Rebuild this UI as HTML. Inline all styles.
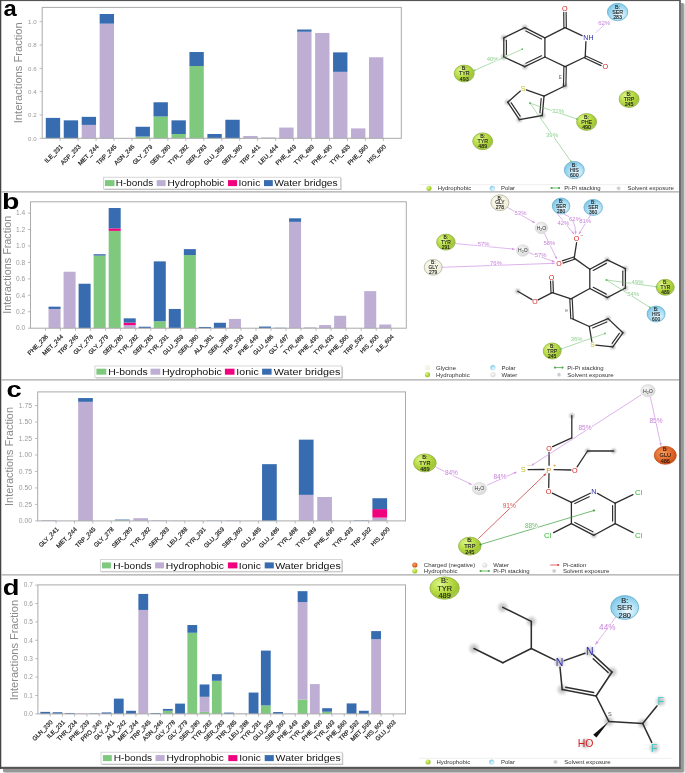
<!DOCTYPE html>
<html><head><meta charset="utf-8"><style>
html,body{margin:0;padding:0;background:#fff;}
svg{display:block;font-family:"Liberation Sans", sans-serif;filter:blur(0.3px);}
</style></head><body>
<svg width="685" height="773" viewBox="0 0 685 773">
<defs>
<radialGradient id="gH" cx="35%" cy="32%" r="72%"><stop offset="0" stop-color="#def690"/><stop offset="0.5" stop-color="#b9dc46"/><stop offset="0.85" stop-color="#9fc634"/><stop offset="1" stop-color="#b0cf60"/></radialGradient>
<radialGradient id="gP" cx="60%" cy="65%" r="72%"><stop offset="0" stop-color="#f0fbff"/><stop offset="0.45" stop-color="#b4e2f5"/><stop offset="0.9" stop-color="#80c8e8"/><stop offset="1" stop-color="#90cce8"/></radialGradient>
<radialGradient id="gG" cx="40%" cy="40%" r="70%"><stop offset="0" stop-color="#fcfcf0"/><stop offset="1" stop-color="#ecebd6"/></radialGradient>
<radialGradient id="gW" cx="40%" cy="40%" r="70%"><stop offset="0" stop-color="#fafafa"/><stop offset="1" stop-color="#d4d4d4"/></radialGradient>
<radialGradient id="gN" cx="40%" cy="40%" r="70%"><stop offset="0" stop-color="#f7a060"/><stop offset="0.6" stop-color="#e0642a"/><stop offset="1" stop-color="#c04a14"/></radialGradient>
<radialGradient id="gS" cx="50%" cy="50%" r="50%"><stop offset="0" stop-color="#bdbdbd"/><stop offset="0.45" stop-color="#cdcdcd" stop-opacity="0.85"/><stop offset="1" stop-color="#e8e8e8" stop-opacity="0"/></radialGradient>
</defs>
<rect x="0" y="0" width="685" height="773" fill="#fff"/>
<rect x="3" y="3" width="682" height="770" rx="2.5" fill="#d2d2d2"/>
<rect x="3" y="3" width="680.8" height="769.2" rx="1.5" fill="#979797"/>
<rect x="0" y="0" width="680.8" height="768.9" fill="#555"/>
<rect x="679" y="1" width="1.8" height="766" fill="#707070"/>
<rect x="0" y="0" width="1.3" height="768.9" fill="#444"/>
<rect x="1.3" y="1.1" width="677.7" height="765.7" fill="#fff"/>
<line x1="1.5" y1="191.8" x2="679" y2="191.8" stroke="#a8a8a8" stroke-width="1.3"/>
<line x1="1.5" y1="379.9" x2="679" y2="379.9" stroke="#a8a8a8" stroke-width="1.3"/>
<line x1="1.5" y1="574.9" x2="679" y2="574.9" stroke="#a8a8a8" stroke-width="1.3"/>

<rect x="45.79" y="117.9" width="14.36" height="20.4" fill="#386cb0"/>
<rect x="63.75" y="120.34" width="14.36" height="17.96" fill="#386cb0"/>
<rect x="81.7" y="124.89" width="14.36" height="13.41" fill="#beaed4"/>
<rect x="81.7" y="116.85" width="14.36" height="8.05" fill="#386cb0"/>
<rect x="99.66" y="23.68" width="14.36" height="114.62" fill="#beaed4"/>
<rect x="99.66" y="14" width="14.36" height="9.68" fill="#386cb0"/>
<rect x="135.57" y="136.55" width="14.36" height="1.75" fill="#7fc97f"/>
<rect x="135.57" y="126.76" width="14.36" height="9.79" fill="#386cb0"/>
<rect x="153.52" y="116.5" width="14.36" height="21.8" fill="#7fc97f"/>
<rect x="153.52" y="102.27" width="14.36" height="14.23" fill="#386cb0"/>
<rect x="171.48" y="133.99" width="14.36" height="4.31" fill="#7fc97f"/>
<rect x="171.48" y="120.34" width="14.36" height="13.64" fill="#386cb0"/>
<rect x="189.43" y="66.01" width="14.36" height="72.29" fill="#7fc97f"/>
<rect x="189.43" y="52.02" width="14.36" height="13.99" fill="#386cb0"/>
<rect x="207.39" y="133.99" width="14.36" height="4.31" fill="#386cb0"/>
<rect x="225.34" y="119.76" width="14.36" height="18.54" fill="#386cb0"/>
<rect x="243.3" y="135.97" width="14.36" height="2.33" fill="#beaed4"/>
<rect x="261.25" y="137.48" width="14.36" height="0.82" fill="#beaed4"/>
<rect x="279.21" y="127.57" width="14.36" height="10.73" fill="#beaed4"/>
<rect x="297.16" y="31.73" width="14.36" height="106.57" fill="#beaed4"/>
<rect x="297.16" y="29.51" width="14.36" height="2.22" fill="#386cb0"/>
<rect x="315.12" y="33.01" width="14.36" height="105.29" fill="#beaed4"/>
<rect x="333.07" y="71.84" width="14.36" height="66.46" fill="#beaed4"/>
<rect x="333.07" y="52.37" width="14.36" height="19.47" fill="#386cb0"/>
<rect x="351.03" y="128.39" width="14.36" height="9.91" fill="#beaed4"/>
<rect x="368.98" y="57.26" width="14.36" height="81.04" fill="#beaed4"/>
<rect x="42.2" y="7.4" width="359.1" height="130.9" fill="none" stroke="#aaa" stroke-width="1"/>
<line x1="39.6" y1="138.3" x2="42.2" y2="138.3" stroke="#aaa" stroke-width="0.8"/>
<text x="36.6" y="140.5" text-anchor="end" font-size="6.1" fill="#999">0.0</text>
<line x1="39.6" y1="114.98" x2="42.2" y2="114.98" stroke="#aaa" stroke-width="0.8"/>
<text x="36.6" y="117.18" text-anchor="end" font-size="6.1" fill="#999">0.2</text>
<line x1="39.6" y1="91.66" x2="42.2" y2="91.66" stroke="#aaa" stroke-width="0.8"/>
<text x="36.6" y="93.86" text-anchor="end" font-size="6.1" fill="#999">0.4</text>
<line x1="39.6" y1="68.34" x2="42.2" y2="68.34" stroke="#aaa" stroke-width="0.8"/>
<text x="36.6" y="70.54" text-anchor="end" font-size="6.1" fill="#999">0.6</text>
<line x1="39.6" y1="45.02" x2="42.2" y2="45.02" stroke="#aaa" stroke-width="0.8"/>
<text x="36.6" y="47.22" text-anchor="end" font-size="6.1" fill="#999">0.8</text>
<line x1="39.6" y1="21.7" x2="42.2" y2="21.7" stroke="#aaa" stroke-width="0.8"/>
<text x="36.6" y="23.9" text-anchor="end" font-size="6.1" fill="#999">1.0</text>
<line x1="60.16" y1="138.3" x2="60.16" y2="140.9" stroke="#aaa" stroke-width="0.8"/>
<text x="63.16" y="147.1" text-anchor="end" font-size="6.1" fill="#1a1a1a" stroke="#1a1a1a" stroke-width="0.18" transform="rotate(-45 63.16 147.1)">ILE_231</text>
<line x1="78.11" y1="138.3" x2="78.11" y2="140.9" stroke="#aaa" stroke-width="0.8"/>
<text x="81.11" y="147.1" text-anchor="end" font-size="6.1" fill="#1a1a1a" stroke="#1a1a1a" stroke-width="0.18" transform="rotate(-45 81.11 147.1)">ASP_233</text>
<line x1="96.07" y1="138.3" x2="96.07" y2="140.9" stroke="#aaa" stroke-width="0.8"/>
<text x="99.07" y="147.1" text-anchor="end" font-size="6.1" fill="#1a1a1a" stroke="#1a1a1a" stroke-width="0.18" transform="rotate(-45 99.07 147.1)">MET_244</text>
<line x1="114.02" y1="138.3" x2="114.02" y2="140.9" stroke="#aaa" stroke-width="0.8"/>
<text x="117.02" y="147.1" text-anchor="end" font-size="6.1" fill="#1a1a1a" stroke="#1a1a1a" stroke-width="0.18" transform="rotate(-45 117.02 147.1)">TRP_245</text>
<line x1="131.98" y1="138.3" x2="131.98" y2="140.9" stroke="#aaa" stroke-width="0.8"/>
<text x="134.98" y="147.1" text-anchor="end" font-size="6.1" fill="#1a1a1a" stroke="#1a1a1a" stroke-width="0.18" transform="rotate(-45 134.98 147.1)">ASN_246</text>
<line x1="149.93" y1="138.3" x2="149.93" y2="140.9" stroke="#aaa" stroke-width="0.8"/>
<text x="152.93" y="147.1" text-anchor="end" font-size="6.1" fill="#1a1a1a" stroke="#1a1a1a" stroke-width="0.18" transform="rotate(-45 152.93 147.1)">GLY_279</text>
<line x1="167.89" y1="138.3" x2="167.89" y2="140.9" stroke="#aaa" stroke-width="0.8"/>
<text x="170.89" y="147.1" text-anchor="end" font-size="6.1" fill="#1a1a1a" stroke="#1a1a1a" stroke-width="0.18" transform="rotate(-45 170.89 147.1)">SER_280</text>
<line x1="185.84" y1="138.3" x2="185.84" y2="140.9" stroke="#aaa" stroke-width="0.8"/>
<text x="188.84" y="147.1" text-anchor="end" font-size="6.1" fill="#1a1a1a" stroke="#1a1a1a" stroke-width="0.18" transform="rotate(-45 188.84 147.1)">TYR_282</text>
<line x1="203.8" y1="138.3" x2="203.8" y2="140.9" stroke="#aaa" stroke-width="0.8"/>
<text x="206.8" y="147.1" text-anchor="end" font-size="6.1" fill="#1a1a1a" stroke="#1a1a1a" stroke-width="0.18" transform="rotate(-45 206.8 147.1)">SER_283</text>
<line x1="221.75" y1="138.3" x2="221.75" y2="140.9" stroke="#aaa" stroke-width="0.8"/>
<text x="224.75" y="147.1" text-anchor="end" font-size="6.1" fill="#1a1a1a" stroke="#1a1a1a" stroke-width="0.18" transform="rotate(-45 224.75 147.1)">GLU_359</text>
<line x1="239.71" y1="138.3" x2="239.71" y2="140.9" stroke="#aaa" stroke-width="0.8"/>
<text x="242.71" y="147.1" text-anchor="end" font-size="6.1" fill="#1a1a1a" stroke="#1a1a1a" stroke-width="0.18" transform="rotate(-45 242.71 147.1)">SER_360</text>
<line x1="257.66" y1="138.3" x2="257.66" y2="140.9" stroke="#aaa" stroke-width="0.8"/>
<text x="260.66" y="147.1" text-anchor="end" font-size="6.1" fill="#1a1a1a" stroke="#1a1a1a" stroke-width="0.18" transform="rotate(-45 260.66 147.1)">TRP_441</text>
<line x1="275.62" y1="138.3" x2="275.62" y2="140.9" stroke="#aaa" stroke-width="0.8"/>
<text x="278.62" y="147.1" text-anchor="end" font-size="6.1" fill="#1a1a1a" stroke="#1a1a1a" stroke-width="0.18" transform="rotate(-45 278.62 147.1)">LEU_444</text>
<line x1="293.57" y1="138.3" x2="293.57" y2="140.9" stroke="#aaa" stroke-width="0.8"/>
<text x="296.57" y="147.1" text-anchor="end" font-size="6.1" fill="#1a1a1a" stroke="#1a1a1a" stroke-width="0.18" transform="rotate(-45 296.57 147.1)">PHE_449</text>
<line x1="311.53" y1="138.3" x2="311.53" y2="140.9" stroke="#aaa" stroke-width="0.8"/>
<text x="314.53" y="147.1" text-anchor="end" font-size="6.1" fill="#1a1a1a" stroke="#1a1a1a" stroke-width="0.18" transform="rotate(-45 314.53 147.1)">TYR_489</text>
<line x1="329.48" y1="138.3" x2="329.48" y2="140.9" stroke="#aaa" stroke-width="0.8"/>
<text x="332.48" y="147.1" text-anchor="end" font-size="6.1" fill="#1a1a1a" stroke="#1a1a1a" stroke-width="0.18" transform="rotate(-45 332.48 147.1)">PHE_490</text>
<line x1="347.44" y1="138.3" x2="347.44" y2="140.9" stroke="#aaa" stroke-width="0.8"/>
<text x="350.44" y="147.1" text-anchor="end" font-size="6.1" fill="#1a1a1a" stroke="#1a1a1a" stroke-width="0.18" transform="rotate(-45 350.44 147.1)">TYR_493</text>
<line x1="365.39" y1="138.3" x2="365.39" y2="140.9" stroke="#aaa" stroke-width="0.8"/>
<text x="368.39" y="147.1" text-anchor="end" font-size="6.1" fill="#1a1a1a" stroke="#1a1a1a" stroke-width="0.18" transform="rotate(-45 368.39 147.1)">PHE_560</text>
<line x1="383.35" y1="138.3" x2="383.35" y2="140.9" stroke="#aaa" stroke-width="0.8"/>
<text x="386.35" y="147.1" text-anchor="end" font-size="6.1" fill="#1a1a1a" stroke="#1a1a1a" stroke-width="0.18" transform="rotate(-45 386.35 147.1)">HIS_600</text>
<text x="0" y="0" text-anchor="middle" font-size="10.3" fill="#8a8a8a" textLength="101" lengthAdjust="spacingAndGlyphs" transform="translate(22.2 72.75) rotate(-90)">Interactions Fraction</text>
<text x="0" y="0" font-size="100" font-weight="bold" fill="#000" transform="translate(3.49 16.4) scale(0.238 0.226)">a</text>
<rect x="104.5" y="178.2" width="237" height="11.8" fill="#bbb"/>
<rect x="103.5" y="177.2" width="237" height="11.8" fill="#fff" stroke="#ccc" stroke-width="0.8"/>
<rect x="104.9" y="180.1" width="9.6" height="6" fill="#7fc97f"/>
<text x="115.8" y="186.4" font-size="9.2" fill="#111" textLength="37.5" lengthAdjust="spacingAndGlyphs">H-bonds</text>
<rect x="156.7" y="180.1" width="8.9" height="6" fill="#beaed4"/>
<text x="167.5" y="186.4" font-size="9.2" fill="#111" textLength="56.9" lengthAdjust="spacingAndGlyphs">Hydrophobic</text>
<rect x="228" y="180.1" width="9.1" height="6" fill="#f0027f"/>
<text x="238.5" y="186.4" font-size="9.2" fill="#111" textLength="21.8" lengthAdjust="spacingAndGlyphs">Ionic</text>
<rect x="264" y="180.1" width="8.8" height="6" fill="#386cb0"/>
<text x="274.2" y="186.4" font-size="9.2" fill="#111" textLength="63.5" lengthAdjust="spacingAndGlyphs">Water bridges</text>
<rect x="48.54" y="308.97" width="12.03" height="19.23" fill="#beaed4"/>
<rect x="48.54" y="306.66" width="12.03" height="2.3" fill="#386cb0"/>
<rect x="63.57" y="271.73" width="12.03" height="56.47" fill="#beaed4"/>
<rect x="78.6" y="283.73" width="12.03" height="44.47" fill="#386cb0"/>
<rect x="93.63" y="255.62" width="12.03" height="72.58" fill="#7fc97f"/>
<rect x="93.63" y="254.22" width="12.03" height="1.4" fill="#386cb0"/>
<rect x="108.67" y="230.88" width="12.03" height="97.32" fill="#7fc97f"/>
<rect x="108.67" y="228.41" width="12.03" height="2.47" fill="#f0027f"/>
<rect x="108.67" y="208.02" width="12.03" height="20.39" fill="#386cb0"/>
<rect x="123.7" y="325.16" width="12.03" height="3.04" fill="#beaed4"/>
<rect x="123.7" y="322.61" width="12.03" height="2.55" fill="#f0027f"/>
<rect x="123.7" y="318.34" width="12.03" height="4.27" fill="#386cb0"/>
<rect x="138.73" y="326.72" width="12.03" height="1.48" fill="#386cb0"/>
<rect x="153.76" y="321.21" width="12.03" height="6.99" fill="#7fc97f"/>
<rect x="153.76" y="261.37" width="12.03" height="59.84" fill="#386cb0"/>
<rect x="168.79" y="308.97" width="12.03" height="19.23" fill="#386cb0"/>
<rect x="183.83" y="255.04" width="12.03" height="73.16" fill="#7fc97f"/>
<rect x="183.83" y="249.12" width="12.03" height="5.92" fill="#386cb0"/>
<rect x="198.86" y="326.97" width="12.03" height="1.23" fill="#386cb0"/>
<rect x="213.89" y="322.77" width="12.03" height="5.43" fill="#386cb0"/>
<rect x="228.92" y="318.91" width="12.03" height="9.29" fill="#beaed4"/>
<rect x="258.99" y="326.56" width="12.03" height="1.64" fill="#386cb0"/>
<rect x="274.02" y="327.79" width="12.03" height="0.41" fill="#386cb0"/>
<rect x="289.05" y="221.83" width="12.03" height="106.37" fill="#beaed4"/>
<rect x="289.05" y="218.3" width="12.03" height="3.53" fill="#386cb0"/>
<rect x="304.08" y="327.38" width="12.03" height="0.82" fill="#beaed4"/>
<rect x="319.11" y="325.08" width="12.03" height="3.12" fill="#beaed4"/>
<rect x="334.15" y="315.79" width="12.03" height="12.41" fill="#beaed4"/>
<rect x="364.21" y="291.13" width="12.03" height="37.07" fill="#beaed4"/>
<rect x="379.24" y="324.5" width="12.03" height="3.7" fill="#beaed4"/>
<rect x="30.5" y="201.8" width="375.8" height="126.4" fill="none" stroke="#aaa" stroke-width="1"/>
<line x1="27.9" y1="328.2" x2="30.5" y2="328.2" stroke="#aaa" stroke-width="0.8"/>
<text x="25.2" y="330.4" text-anchor="end" font-size="6.6" fill="#999">0.0</text>
<line x1="27.9" y1="311.76" x2="30.5" y2="311.76" stroke="#aaa" stroke-width="0.8"/>
<text x="25.2" y="313.96" text-anchor="end" font-size="6.6" fill="#999">0.2</text>
<line x1="27.9" y1="295.32" x2="30.5" y2="295.32" stroke="#aaa" stroke-width="0.8"/>
<text x="25.2" y="297.52" text-anchor="end" font-size="6.6" fill="#999">0.4</text>
<line x1="27.9" y1="278.88" x2="30.5" y2="278.88" stroke="#aaa" stroke-width="0.8"/>
<text x="25.2" y="281.08" text-anchor="end" font-size="6.6" fill="#999">0.6</text>
<line x1="27.9" y1="262.44" x2="30.5" y2="262.44" stroke="#aaa" stroke-width="0.8"/>
<text x="25.2" y="264.64" text-anchor="end" font-size="6.6" fill="#999">0.8</text>
<line x1="27.9" y1="246" x2="30.5" y2="246" stroke="#aaa" stroke-width="0.8"/>
<text x="25.2" y="248.2" text-anchor="end" font-size="6.6" fill="#999">1.0</text>
<line x1="27.9" y1="229.56" x2="30.5" y2="229.56" stroke="#aaa" stroke-width="0.8"/>
<text x="25.2" y="231.76" text-anchor="end" font-size="6.6" fill="#999">1.2</text>
<line x1="27.9" y1="213.12" x2="30.5" y2="213.12" stroke="#aaa" stroke-width="0.8"/>
<text x="25.2" y="215.32" text-anchor="end" font-size="6.6" fill="#999">1.4</text>
<line x1="45.53" y1="328.2" x2="45.53" y2="330.8" stroke="#aaa" stroke-width="0.8"/>
<text x="48.53" y="337" text-anchor="end" font-size="6.1" fill="#1a1a1a" stroke="#1a1a1a" stroke-width="0.18" transform="rotate(-45 48.53 337)">PHE_236</text>
<line x1="60.56" y1="328.2" x2="60.56" y2="330.8" stroke="#aaa" stroke-width="0.8"/>
<text x="63.56" y="337" text-anchor="end" font-size="6.1" fill="#1a1a1a" stroke="#1a1a1a" stroke-width="0.18" transform="rotate(-45 63.56 337)">MET_244</text>
<line x1="75.6" y1="328.2" x2="75.6" y2="330.8" stroke="#aaa" stroke-width="0.8"/>
<text x="78.6" y="337" text-anchor="end" font-size="6.1" fill="#1a1a1a" stroke="#1a1a1a" stroke-width="0.18" transform="rotate(-45 78.6 337)">TRP_245</text>
<line x1="90.63" y1="328.2" x2="90.63" y2="330.8" stroke="#aaa" stroke-width="0.8"/>
<text x="93.63" y="337" text-anchor="end" font-size="6.1" fill="#1a1a1a" stroke="#1a1a1a" stroke-width="0.18" transform="rotate(-45 93.63 337)">GLY_278</text>
<line x1="105.66" y1="328.2" x2="105.66" y2="330.8" stroke="#aaa" stroke-width="0.8"/>
<text x="108.66" y="337" text-anchor="end" font-size="6.1" fill="#1a1a1a" stroke="#1a1a1a" stroke-width="0.18" transform="rotate(-45 108.66 337)">GLY_279</text>
<line x1="120.69" y1="328.2" x2="120.69" y2="330.8" stroke="#aaa" stroke-width="0.8"/>
<text x="123.69" y="337" text-anchor="end" font-size="6.1" fill="#1a1a1a" stroke="#1a1a1a" stroke-width="0.18" transform="rotate(-45 123.69 337)">SER_280</text>
<line x1="135.72" y1="328.2" x2="135.72" y2="330.8" stroke="#aaa" stroke-width="0.8"/>
<text x="138.72" y="337" text-anchor="end" font-size="6.1" fill="#1a1a1a" stroke="#1a1a1a" stroke-width="0.18" transform="rotate(-45 138.72 337)">TYR_282</text>
<line x1="150.76" y1="328.2" x2="150.76" y2="330.8" stroke="#aaa" stroke-width="0.8"/>
<text x="153.76" y="337" text-anchor="end" font-size="6.1" fill="#1a1a1a" stroke="#1a1a1a" stroke-width="0.18" transform="rotate(-45 153.76 337)">SER_283</text>
<line x1="165.79" y1="328.2" x2="165.79" y2="330.8" stroke="#aaa" stroke-width="0.8"/>
<text x="168.79" y="337" text-anchor="end" font-size="6.1" fill="#1a1a1a" stroke="#1a1a1a" stroke-width="0.18" transform="rotate(-45 168.79 337)">TYR_291</text>
<line x1="180.82" y1="328.2" x2="180.82" y2="330.8" stroke="#aaa" stroke-width="0.8"/>
<text x="183.82" y="337" text-anchor="end" font-size="6.1" fill="#1a1a1a" stroke="#1a1a1a" stroke-width="0.18" transform="rotate(-45 183.82 337)">GLU_359</text>
<line x1="195.85" y1="328.2" x2="195.85" y2="330.8" stroke="#aaa" stroke-width="0.8"/>
<text x="198.85" y="337" text-anchor="end" font-size="6.1" fill="#1a1a1a" stroke="#1a1a1a" stroke-width="0.18" transform="rotate(-45 198.85 337)">SER_360</text>
<line x1="210.88" y1="328.2" x2="210.88" y2="330.8" stroke="#aaa" stroke-width="0.8"/>
<text x="213.88" y="337" text-anchor="end" font-size="6.1" fill="#1a1a1a" stroke="#1a1a1a" stroke-width="0.18" transform="rotate(-45 213.88 337)">ALA_361</text>
<line x1="225.92" y1="328.2" x2="225.92" y2="330.8" stroke="#aaa" stroke-width="0.8"/>
<text x="228.92" y="337" text-anchor="end" font-size="6.1" fill="#1a1a1a" stroke="#1a1a1a" stroke-width="0.18" transform="rotate(-45 228.92 337)">SER_386</text>
<line x1="240.95" y1="328.2" x2="240.95" y2="330.8" stroke="#aaa" stroke-width="0.8"/>
<text x="243.95" y="337" text-anchor="end" font-size="6.1" fill="#1a1a1a" stroke="#1a1a1a" stroke-width="0.18" transform="rotate(-45 243.95 337)">TRP_393</text>
<line x1="255.98" y1="328.2" x2="255.98" y2="330.8" stroke="#aaa" stroke-width="0.8"/>
<text x="258.98" y="337" text-anchor="end" font-size="6.1" fill="#1a1a1a" stroke="#1a1a1a" stroke-width="0.18" transform="rotate(-45 258.98 337)">PHE_449</text>
<line x1="271.01" y1="328.2" x2="271.01" y2="330.8" stroke="#aaa" stroke-width="0.8"/>
<text x="274.01" y="337" text-anchor="end" font-size="6.1" fill="#1a1a1a" stroke="#1a1a1a" stroke-width="0.18" transform="rotate(-45 274.01 337)">GLU_486</text>
<line x1="286.04" y1="328.2" x2="286.04" y2="330.8" stroke="#aaa" stroke-width="0.8"/>
<text x="289.04" y="337" text-anchor="end" font-size="6.1" fill="#1a1a1a" stroke="#1a1a1a" stroke-width="0.18" transform="rotate(-45 289.04 337)">GLY_487</text>
<line x1="301.08" y1="328.2" x2="301.08" y2="330.8" stroke="#aaa" stroke-width="0.8"/>
<text x="304.08" y="337" text-anchor="end" font-size="6.1" fill="#1a1a1a" stroke="#1a1a1a" stroke-width="0.18" transform="rotate(-45 304.08 337)">TYR_489</text>
<line x1="316.11" y1="328.2" x2="316.11" y2="330.8" stroke="#aaa" stroke-width="0.8"/>
<text x="319.11" y="337" text-anchor="end" font-size="6.1" fill="#1a1a1a" stroke="#1a1a1a" stroke-width="0.18" transform="rotate(-45 319.11 337)">PHE_490</text>
<line x1="331.14" y1="328.2" x2="331.14" y2="330.8" stroke="#aaa" stroke-width="0.8"/>
<text x="334.14" y="337" text-anchor="end" font-size="6.1" fill="#1a1a1a" stroke="#1a1a1a" stroke-width="0.18" transform="rotate(-45 334.14 337)">TYR_493</text>
<line x1="346.17" y1="328.2" x2="346.17" y2="330.8" stroke="#aaa" stroke-width="0.8"/>
<text x="349.17" y="337" text-anchor="end" font-size="6.1" fill="#1a1a1a" stroke="#1a1a1a" stroke-width="0.18" transform="rotate(-45 349.17 337)">PHE_560</text>
<line x1="361.2" y1="328.2" x2="361.2" y2="330.8" stroke="#aaa" stroke-width="0.8"/>
<text x="364.2" y="337" text-anchor="end" font-size="6.1" fill="#1a1a1a" stroke="#1a1a1a" stroke-width="0.18" transform="rotate(-45 364.2 337)">TRP_592</text>
<line x1="376.24" y1="328.2" x2="376.24" y2="330.8" stroke="#aaa" stroke-width="0.8"/>
<text x="379.24" y="337" text-anchor="end" font-size="6.1" fill="#1a1a1a" stroke="#1a1a1a" stroke-width="0.18" transform="rotate(-45 379.24 337)">HIS_600</text>
<line x1="391.27" y1="328.2" x2="391.27" y2="330.8" stroke="#aaa" stroke-width="0.8"/>
<text x="394.27" y="337" text-anchor="end" font-size="6.1" fill="#1a1a1a" stroke="#1a1a1a" stroke-width="0.18" transform="rotate(-45 394.27 337)">ILE_604</text>
<text x="0" y="0" text-anchor="middle" font-size="10.3" fill="#8a8a8a" textLength="98" lengthAdjust="spacingAndGlyphs" transform="translate(10.5 264.8) rotate(-90)">Interactions Fraction</text>
<text x="0" y="0" font-size="100" font-weight="bold" fill="#000" transform="translate(2.11 209.3) scale(0.284 0.224)">b</text>
<rect x="95.9" y="367" width="246.9" height="11.4" fill="#bbb"/>
<rect x="94.9" y="366" width="246.9" height="11.4" fill="#fff" stroke="#ccc" stroke-width="0.8"/>
<rect x="96.4" y="368.7" width="9.9" height="6" fill="#7fc97f"/>
<text x="108.2" y="375" font-size="9.2" fill="#111" textLength="39.5" lengthAdjust="spacingAndGlyphs">H-bonds</text>
<rect x="150.5" y="368.7" width="9.8" height="6" fill="#beaed4"/>
<text x="161.9" y="375" font-size="9.2" fill="#111" textLength="60.1" lengthAdjust="spacingAndGlyphs">Hydrophobic</text>
<rect x="224.9" y="368.7" width="9.6" height="6" fill="#f0027f"/>
<text x="236.3" y="375" font-size="9.2" fill="#111" textLength="22.4" lengthAdjust="spacingAndGlyphs">Ionic</text>
<rect x="262.1" y="368.7" width="9.5" height="6" fill="#386cb0"/>
<text x="273.7" y="375" font-size="9.2" fill="#111" textLength="66.6" lengthAdjust="spacingAndGlyphs">Water bridges</text>
<rect x="41.38" y="520.57" width="14.71" height="0.33" fill="#386cb0"/>
<rect x="78.16" y="401.82" width="14.71" height="119.08" fill="#beaed4"/>
<rect x="78.16" y="398.06" width="14.71" height="3.76" fill="#386cb0"/>
<rect x="114.94" y="520.24" width="14.71" height="0.66" fill="#7fc97f"/>
<rect x="114.94" y="519.58" width="14.71" height="0.66" fill="#386cb0"/>
<rect x="133.33" y="518.2" width="14.71" height="2.7" fill="#beaed4"/>
<rect x="151.72" y="520.64" width="14.71" height="0.26" fill="#386cb0"/>
<rect x="170.11" y="520.64" width="14.71" height="0.26" fill="#beaed4"/>
<rect x="188.5" y="520.64" width="14.71" height="0.26" fill="#beaed4"/>
<rect x="206.89" y="520.64" width="14.71" height="0.26" fill="#386cb0"/>
<rect x="225.28" y="520.7" width="14.71" height="0.2" fill="#386cb0"/>
<rect x="262.06" y="464.16" width="14.71" height="56.74" fill="#386cb0"/>
<rect x="298.84" y="494.87" width="14.71" height="26.03" fill="#beaed4"/>
<rect x="298.84" y="439.65" width="14.71" height="55.22" fill="#386cb0"/>
<rect x="317.23" y="496.98" width="14.71" height="23.92" fill="#beaed4"/>
<rect x="354.01" y="520.44" width="14.71" height="0.46" fill="#386cb0"/>
<rect x="372.4" y="517.61" width="14.71" height="3.3" fill="#beaed4"/>
<rect x="372.4" y="509.1" width="14.71" height="8.5" fill="#f0027f"/>
<rect x="372.4" y="498.23" width="14.71" height="10.87" fill="#386cb0"/>
<rect x="37.7" y="391.9" width="367.8" height="129" fill="none" stroke="#aaa" stroke-width="1"/>
<line x1="35.1" y1="520.9" x2="37.7" y2="520.9" stroke="#aaa" stroke-width="0.8"/>
<text x="32" y="523.1" text-anchor="end" font-size="6.8" fill="#999">0.00</text>
<line x1="35.1" y1="504.42" x2="37.7" y2="504.42" stroke="#aaa" stroke-width="0.8"/>
<text x="32" y="506.62" text-anchor="end" font-size="6.8" fill="#999">0.25</text>
<line x1="35.1" y1="487.95" x2="37.7" y2="487.95" stroke="#aaa" stroke-width="0.8"/>
<text x="32" y="490.15" text-anchor="end" font-size="6.8" fill="#999">0.50</text>
<line x1="35.1" y1="471.47" x2="37.7" y2="471.47" stroke="#aaa" stroke-width="0.8"/>
<text x="32" y="473.67" text-anchor="end" font-size="6.8" fill="#999">0.75</text>
<line x1="35.1" y1="455" x2="37.7" y2="455" stroke="#aaa" stroke-width="0.8"/>
<text x="32" y="457.2" text-anchor="end" font-size="6.8" fill="#999">1.00</text>
<line x1="35.1" y1="438.52" x2="37.7" y2="438.52" stroke="#aaa" stroke-width="0.8"/>
<text x="32" y="440.72" text-anchor="end" font-size="6.8" fill="#999">1.25</text>
<line x1="35.1" y1="422.05" x2="37.7" y2="422.05" stroke="#aaa" stroke-width="0.8"/>
<text x="32" y="424.25" text-anchor="end" font-size="6.8" fill="#999">1.50</text>
<line x1="35.1" y1="405.57" x2="37.7" y2="405.57" stroke="#aaa" stroke-width="0.8"/>
<text x="32" y="407.77" text-anchor="end" font-size="6.8" fill="#999">1.75</text>
<line x1="56.09" y1="520.9" x2="56.09" y2="523.5" stroke="#aaa" stroke-width="0.8"/>
<text x="59.09" y="529.7" text-anchor="end" font-size="6.1" fill="#1a1a1a" stroke="#1a1a1a" stroke-width="0.18" transform="rotate(-45 59.09 529.7)">GLY_241</text>
<line x1="74.48" y1="520.9" x2="74.48" y2="523.5" stroke="#aaa" stroke-width="0.8"/>
<text x="77.48" y="529.7" text-anchor="end" font-size="6.1" fill="#1a1a1a" stroke="#1a1a1a" stroke-width="0.18" transform="rotate(-45 77.48 529.7)">MET_244</text>
<line x1="92.87" y1="520.9" x2="92.87" y2="523.5" stroke="#aaa" stroke-width="0.8"/>
<text x="95.87" y="529.7" text-anchor="end" font-size="6.1" fill="#1a1a1a" stroke="#1a1a1a" stroke-width="0.18" transform="rotate(-45 95.87 529.7)">TRP_245</text>
<line x1="111.26" y1="520.9" x2="111.26" y2="523.5" stroke="#aaa" stroke-width="0.8"/>
<text x="114.26" y="529.7" text-anchor="end" font-size="6.1" fill="#1a1a1a" stroke="#1a1a1a" stroke-width="0.18" transform="rotate(-45 114.26 529.7)">GLY_278</text>
<line x1="129.65" y1="520.9" x2="129.65" y2="523.5" stroke="#aaa" stroke-width="0.8"/>
<text x="132.65" y="529.7" text-anchor="end" font-size="6.1" fill="#1a1a1a" stroke="#1a1a1a" stroke-width="0.18" transform="rotate(-45 132.65 529.7)">SER_280</text>
<line x1="148.04" y1="520.9" x2="148.04" y2="523.5" stroke="#aaa" stroke-width="0.8"/>
<text x="151.04" y="529.7" text-anchor="end" font-size="6.1" fill="#1a1a1a" stroke="#1a1a1a" stroke-width="0.18" transform="rotate(-45 151.04 529.7)">TYR_282</text>
<line x1="166.43" y1="520.9" x2="166.43" y2="523.5" stroke="#aaa" stroke-width="0.8"/>
<text x="169.43" y="529.7" text-anchor="end" font-size="6.1" fill="#1a1a1a" stroke="#1a1a1a" stroke-width="0.18" transform="rotate(-45 169.43 529.7)">SER_283</text>
<line x1="184.82" y1="520.9" x2="184.82" y2="523.5" stroke="#aaa" stroke-width="0.8"/>
<text x="187.82" y="529.7" text-anchor="end" font-size="6.1" fill="#1a1a1a" stroke="#1a1a1a" stroke-width="0.18" transform="rotate(-45 187.82 529.7)">LEU_288</text>
<line x1="203.21" y1="520.9" x2="203.21" y2="523.5" stroke="#aaa" stroke-width="0.8"/>
<text x="206.21" y="529.7" text-anchor="end" font-size="6.1" fill="#1a1a1a" stroke="#1a1a1a" stroke-width="0.18" transform="rotate(-45 206.21 529.7)">TYR_291</text>
<line x1="221.6" y1="520.9" x2="221.6" y2="523.5" stroke="#aaa" stroke-width="0.8"/>
<text x="224.6" y="529.7" text-anchor="end" font-size="6.1" fill="#1a1a1a" stroke="#1a1a1a" stroke-width="0.18" transform="rotate(-45 224.6 529.7)">GLU_359</text>
<line x1="239.99" y1="520.9" x2="239.99" y2="523.5" stroke="#aaa" stroke-width="0.8"/>
<text x="242.99" y="529.7" text-anchor="end" font-size="6.1" fill="#1a1a1a" stroke="#1a1a1a" stroke-width="0.18" transform="rotate(-45 242.99 529.7)">SER_360</text>
<line x1="258.38" y1="520.9" x2="258.38" y2="523.5" stroke="#aaa" stroke-width="0.8"/>
<text x="261.38" y="529.7" text-anchor="end" font-size="6.1" fill="#1a1a1a" stroke="#1a1a1a" stroke-width="0.18" transform="rotate(-45 261.38 529.7)">GLU_485</text>
<line x1="276.77" y1="520.9" x2="276.77" y2="523.5" stroke="#aaa" stroke-width="0.8"/>
<text x="279.77" y="529.7" text-anchor="end" font-size="6.1" fill="#1a1a1a" stroke="#1a1a1a" stroke-width="0.18" transform="rotate(-45 279.77 529.7)">GLU_486</text>
<line x1="295.16" y1="520.9" x2="295.16" y2="523.5" stroke="#aaa" stroke-width="0.8"/>
<text x="298.16" y="529.7" text-anchor="end" font-size="6.1" fill="#1a1a1a" stroke="#1a1a1a" stroke-width="0.18" transform="rotate(-45 298.16 529.7)">TYR_488</text>
<line x1="313.55" y1="520.9" x2="313.55" y2="523.5" stroke="#aaa" stroke-width="0.8"/>
<text x="316.55" y="529.7" text-anchor="end" font-size="6.1" fill="#1a1a1a" stroke="#1a1a1a" stroke-width="0.18" transform="rotate(-45 316.55 529.7)">TYR_489</text>
<line x1="331.94" y1="520.9" x2="331.94" y2="523.5" stroke="#aaa" stroke-width="0.8"/>
<text x="334.94" y="529.7" text-anchor="end" font-size="6.1" fill="#1a1a1a" stroke="#1a1a1a" stroke-width="0.18" transform="rotate(-45 334.94 529.7)">PHE_490</text>
<line x1="350.33" y1="520.9" x2="350.33" y2="523.5" stroke="#aaa" stroke-width="0.8"/>
<text x="353.33" y="529.7" text-anchor="end" font-size="6.1" fill="#1a1a1a" stroke="#1a1a1a" stroke-width="0.18" transform="rotate(-45 353.33 529.7)">TYR_493</text>
<line x1="368.72" y1="520.9" x2="368.72" y2="523.5" stroke="#aaa" stroke-width="0.8"/>
<text x="371.72" y="529.7" text-anchor="end" font-size="6.1" fill="#1a1a1a" stroke="#1a1a1a" stroke-width="0.18" transform="rotate(-45 371.72 529.7)">TRP_592</text>
<line x1="387.11" y1="520.9" x2="387.11" y2="523.5" stroke="#aaa" stroke-width="0.8"/>
<text x="390.11" y="529.7" text-anchor="end" font-size="6.1" fill="#1a1a1a" stroke="#1a1a1a" stroke-width="0.18" transform="rotate(-45 390.11 529.7)">HIS_600</text>
<text x="0" y="0" text-anchor="middle" font-size="10.3" fill="#8a8a8a" textLength="99" lengthAdjust="spacingAndGlyphs" transform="translate(13.2 456.5) rotate(-90)">Interactions Fraction</text>
<text x="0" y="0" font-size="100" font-weight="bold" fill="#000" transform="translate(6.61 396.8) scale(0.273 0.222)">c</text>
<rect x="101.4" y="560.5" width="241.4" height="11.8" fill="#bbb"/>
<rect x="100.4" y="559.5" width="241.4" height="11.8" fill="#fff" stroke="#ccc" stroke-width="0.8"/>
<rect x="102" y="562.4" width="8.9" height="6" fill="#7fc97f"/>
<text x="113.2" y="568.7" font-size="9.2" fill="#111" textLength="38.3" lengthAdjust="spacingAndGlyphs">H-bonds</text>
<rect x="155.1" y="562.4" width="8.9" height="6" fill="#beaed4"/>
<text x="165.8" y="568.7" font-size="9.2" fill="#111" textLength="58.1" lengthAdjust="spacingAndGlyphs">Hydrophobic</text>
<rect x="227.9" y="562.4" width="9.5" height="6" fill="#f0027f"/>
<text x="238.8" y="568.7" font-size="9.2" fill="#111" textLength="22.1" lengthAdjust="spacingAndGlyphs">Ionic</text>
<rect x="264.7" y="562.4" width="9.1" height="6" fill="#386cb0"/>
<text x="275.2" y="568.7" font-size="9.2" fill="#111" textLength="65.5" lengthAdjust="spacingAndGlyphs">Water bridges</text>
<rect x="40.35" y="711.88" width="9.8" height="2.02" fill="#386cb0"/>
<rect x="52.6" y="712.24" width="9.8" height="1.66" fill="#386cb0"/>
<rect x="64.86" y="712.98" width="9.8" height="0.92" fill="#386cb0"/>
<rect x="77.11" y="713.35" width="9.8" height="0.55" fill="#beaed4"/>
<rect x="89.36" y="713.35" width="9.8" height="0.55" fill="#386cb0"/>
<rect x="101.62" y="712.43" width="9.8" height="1.47" fill="#386cb0"/>
<rect x="113.87" y="698.63" width="9.8" height="15.27" fill="#386cb0"/>
<rect x="126.12" y="710.77" width="9.8" height="3.13" fill="#386cb0"/>
<rect x="138.38" y="609.94" width="9.8" height="103.96" fill="#beaed4"/>
<rect x="138.38" y="593.93" width="9.8" height="16.01" fill="#386cb0"/>
<rect x="150.63" y="712.98" width="9.8" height="0.92" fill="#386cb0"/>
<rect x="162.88" y="710.77" width="9.8" height="3.13" fill="#7fc97f"/>
<rect x="162.88" y="708.93" width="9.8" height="1.84" fill="#386cb0"/>
<rect x="175.14" y="703.6" width="9.8" height="10.3" fill="#386cb0"/>
<rect x="187.39" y="632.76" width="9.8" height="81.14" fill="#7fc97f"/>
<rect x="187.39" y="625.03" width="9.8" height="7.73" fill="#386cb0"/>
<rect x="199.64" y="711.88" width="9.8" height="2.02" fill="#7fc97f"/>
<rect x="199.64" y="696.79" width="9.8" height="15.09" fill="#beaed4"/>
<rect x="199.64" y="684.46" width="9.8" height="12.33" fill="#386cb0"/>
<rect x="211.9" y="680.78" width="9.8" height="33.12" fill="#7fc97f"/>
<rect x="211.9" y="674.16" width="9.8" height="6.62" fill="#386cb0"/>
<rect x="224.15" y="712.61" width="9.8" height="1.29" fill="#386cb0"/>
<rect x="236.4" y="713.53" width="9.8" height="0.37" fill="#beaed4"/>
<rect x="248.66" y="692.56" width="9.8" height="21.34" fill="#386cb0"/>
<rect x="260.91" y="705.44" width="9.8" height="8.46" fill="#7fc97f"/>
<rect x="260.91" y="650.6" width="9.8" height="54.83" fill="#386cb0"/>
<rect x="273.16" y="712.06" width="9.8" height="1.84" fill="#386cb0"/>
<rect x="285.42" y="713.53" width="9.8" height="0.37" fill="#beaed4"/>
<rect x="297.67" y="699.55" width="9.8" height="14.35" fill="#7fc97f"/>
<rect x="297.67" y="602.03" width="9.8" height="97.52" fill="#beaed4"/>
<rect x="297.67" y="591.17" width="9.8" height="10.86" fill="#386cb0"/>
<rect x="309.92" y="684.09" width="9.8" height="29.81" fill="#beaed4"/>
<rect x="322.18" y="711.69" width="9.8" height="2.21" fill="#7fc97f"/>
<rect x="322.18" y="708.2" width="9.8" height="3.5" fill="#386cb0"/>
<rect x="346.68" y="703.41" width="9.8" height="10.49" fill="#386cb0"/>
<rect x="358.94" y="710.77" width="9.8" height="3.13" fill="#386cb0"/>
<rect x="371.19" y="639.2" width="9.8" height="74.7" fill="#beaed4"/>
<rect x="371.19" y="631.1" width="9.8" height="8.1" fill="#386cb0"/>
<rect x="37.9" y="584.9" width="367.6" height="129" fill="none" stroke="#aaa" stroke-width="1"/>
<line x1="35.3" y1="713.9" x2="37.9" y2="713.9" stroke="#aaa" stroke-width="0.8"/>
<text x="32.9" y="716.1" text-anchor="end" font-size="6.5" fill="#999">0.0</text>
<line x1="35.3" y1="695.5" x2="37.9" y2="695.5" stroke="#aaa" stroke-width="0.8"/>
<text x="32.9" y="697.7" text-anchor="end" font-size="6.5" fill="#999">0.1</text>
<line x1="35.3" y1="677.1" x2="37.9" y2="677.1" stroke="#aaa" stroke-width="0.8"/>
<text x="32.9" y="679.3" text-anchor="end" font-size="6.5" fill="#999">0.2</text>
<line x1="35.3" y1="658.7" x2="37.9" y2="658.7" stroke="#aaa" stroke-width="0.8"/>
<text x="32.9" y="660.9" text-anchor="end" font-size="6.5" fill="#999">0.3</text>
<line x1="35.3" y1="640.3" x2="37.9" y2="640.3" stroke="#aaa" stroke-width="0.8"/>
<text x="32.9" y="642.5" text-anchor="end" font-size="6.5" fill="#999">0.4</text>
<line x1="35.3" y1="621.9" x2="37.9" y2="621.9" stroke="#aaa" stroke-width="0.8"/>
<text x="32.9" y="624.1" text-anchor="end" font-size="6.5" fill="#999">0.5</text>
<line x1="35.3" y1="603.5" x2="37.9" y2="603.5" stroke="#aaa" stroke-width="0.8"/>
<text x="32.9" y="605.7" text-anchor="end" font-size="6.5" fill="#999">0.6</text>
<line x1="35.3" y1="585.1" x2="37.9" y2="585.1" stroke="#aaa" stroke-width="0.8"/>
<text x="32.9" y="587.3" text-anchor="end" font-size="6.5" fill="#999">0.7</text>
<line x1="50.15" y1="713.9" x2="50.15" y2="716.5" stroke="#aaa" stroke-width="0.8"/>
<text x="53.15" y="722.7" text-anchor="end" font-size="6.1" fill="#1a1a1a" stroke="#1a1a1a" stroke-width="0.18" transform="rotate(-45 53.15 722.7)">GLN_230</text>
<line x1="62.41" y1="713.9" x2="62.41" y2="716.5" stroke="#aaa" stroke-width="0.8"/>
<text x="65.41" y="722.7" text-anchor="end" font-size="6.1" fill="#1a1a1a" stroke="#1a1a1a" stroke-width="0.18" transform="rotate(-45 65.41 722.7)">ILE_231</text>
<line x1="74.66" y1="713.9" x2="74.66" y2="716.5" stroke="#aaa" stroke-width="0.8"/>
<text x="77.66" y="722.7" text-anchor="end" font-size="6.1" fill="#1a1a1a" stroke="#1a1a1a" stroke-width="0.18" transform="rotate(-45 77.66 722.7)">THR_234</text>
<line x1="86.91" y1="713.9" x2="86.91" y2="716.5" stroke="#aaa" stroke-width="0.8"/>
<text x="89.91" y="722.7" text-anchor="end" font-size="6.1" fill="#1a1a1a" stroke="#1a1a1a" stroke-width="0.18" transform="rotate(-45 89.91 722.7)">PHE_239</text>
<line x1="99.17" y1="713.9" x2="99.17" y2="716.5" stroke="#aaa" stroke-width="0.8"/>
<text x="102.17" y="722.7" text-anchor="end" font-size="6.1" fill="#1a1a1a" stroke="#1a1a1a" stroke-width="0.18" transform="rotate(-45 102.17 722.7)">PRO_240</text>
<line x1="111.42" y1="713.9" x2="111.42" y2="716.5" stroke="#aaa" stroke-width="0.8"/>
<text x="114.42" y="722.7" text-anchor="end" font-size="6.1" fill="#1a1a1a" stroke="#1a1a1a" stroke-width="0.18" transform="rotate(-45 114.42 722.7)">GLY_241</text>
<line x1="123.67" y1="713.9" x2="123.67" y2="716.5" stroke="#aaa" stroke-width="0.8"/>
<text x="126.67" y="722.7" text-anchor="end" font-size="6.1" fill="#1a1a1a" stroke="#1a1a1a" stroke-width="0.18" transform="rotate(-45 126.67 722.7)">ALA_242</text>
<line x1="135.93" y1="713.9" x2="135.93" y2="716.5" stroke="#aaa" stroke-width="0.8"/>
<text x="138.93" y="722.7" text-anchor="end" font-size="6.1" fill="#1a1a1a" stroke="#1a1a1a" stroke-width="0.18" transform="rotate(-45 138.93 722.7)">MET_244</text>
<line x1="148.18" y1="713.9" x2="148.18" y2="716.5" stroke="#aaa" stroke-width="0.8"/>
<text x="151.18" y="722.7" text-anchor="end" font-size="6.1" fill="#1a1a1a" stroke="#1a1a1a" stroke-width="0.18" transform="rotate(-45 151.18 722.7)">TRP_245</text>
<line x1="160.43" y1="713.9" x2="160.43" y2="716.5" stroke="#aaa" stroke-width="0.8"/>
<text x="163.43" y="722.7" text-anchor="end" font-size="6.1" fill="#1a1a1a" stroke="#1a1a1a" stroke-width="0.18" transform="rotate(-45 163.43 722.7)">ASN_246</text>
<line x1="172.69" y1="713.9" x2="172.69" y2="716.5" stroke="#aaa" stroke-width="0.8"/>
<text x="175.69" y="722.7" text-anchor="end" font-size="6.1" fill="#1a1a1a" stroke="#1a1a1a" stroke-width="0.18" transform="rotate(-45 175.69 722.7)">GLY_278</text>
<line x1="184.94" y1="713.9" x2="184.94" y2="716.5" stroke="#aaa" stroke-width="0.8"/>
<text x="187.94" y="722.7" text-anchor="end" font-size="6.1" fill="#1a1a1a" stroke="#1a1a1a" stroke-width="0.18" transform="rotate(-45 187.94 722.7)">GLY_279</text>
<line x1="197.19" y1="713.9" x2="197.19" y2="716.5" stroke="#aaa" stroke-width="0.8"/>
<text x="200.19" y="722.7" text-anchor="end" font-size="6.1" fill="#1a1a1a" stroke="#1a1a1a" stroke-width="0.18" transform="rotate(-45 200.19 722.7)">SER_280</text>
<line x1="209.45" y1="713.9" x2="209.45" y2="716.5" stroke="#aaa" stroke-width="0.8"/>
<text x="212.45" y="722.7" text-anchor="end" font-size="6.1" fill="#1a1a1a" stroke="#1a1a1a" stroke-width="0.18" transform="rotate(-45 212.45 722.7)">TYR_282</text>
<line x1="221.7" y1="713.9" x2="221.7" y2="716.5" stroke="#aaa" stroke-width="0.8"/>
<text x="224.7" y="722.7" text-anchor="end" font-size="6.1" fill="#1a1a1a" stroke="#1a1a1a" stroke-width="0.18" transform="rotate(-45 224.7 722.7)">SER_283</text>
<line x1="233.95" y1="713.9" x2="233.95" y2="716.5" stroke="#aaa" stroke-width="0.8"/>
<text x="236.95" y="722.7" text-anchor="end" font-size="6.1" fill="#1a1a1a" stroke="#1a1a1a" stroke-width="0.18" transform="rotate(-45 236.95 722.7)">THR_285</text>
<line x1="246.21" y1="713.9" x2="246.21" y2="716.5" stroke="#aaa" stroke-width="0.8"/>
<text x="249.21" y="722.7" text-anchor="end" font-size="6.1" fill="#1a1a1a" stroke="#1a1a1a" stroke-width="0.18" transform="rotate(-45 249.21 722.7)">LEU_288</text>
<line x1="258.46" y1="713.9" x2="258.46" y2="716.5" stroke="#aaa" stroke-width="0.8"/>
<text x="261.46" y="722.7" text-anchor="end" font-size="6.1" fill="#1a1a1a" stroke="#1a1a1a" stroke-width="0.18" transform="rotate(-45 261.46 722.7)">TYR_291</text>
<line x1="270.71" y1="713.9" x2="270.71" y2="716.5" stroke="#aaa" stroke-width="0.8"/>
<text x="273.71" y="722.7" text-anchor="end" font-size="6.1" fill="#1a1a1a" stroke="#1a1a1a" stroke-width="0.18" transform="rotate(-45 273.71 722.7)">GLU_359</text>
<line x1="282.97" y1="713.9" x2="282.97" y2="716.5" stroke="#aaa" stroke-width="0.8"/>
<text x="285.97" y="722.7" text-anchor="end" font-size="6.1" fill="#1a1a1a" stroke="#1a1a1a" stroke-width="0.18" transform="rotate(-45 285.97 722.7)">SER_360</text>
<line x1="295.22" y1="713.9" x2="295.22" y2="716.5" stroke="#aaa" stroke-width="0.8"/>
<text x="298.22" y="722.7" text-anchor="end" font-size="6.1" fill="#1a1a1a" stroke="#1a1a1a" stroke-width="0.18" transform="rotate(-45 298.22 722.7)">PHE_449</text>
<line x1="307.47" y1="713.9" x2="307.47" y2="716.5" stroke="#aaa" stroke-width="0.8"/>
<text x="310.47" y="722.7" text-anchor="end" font-size="6.1" fill="#1a1a1a" stroke="#1a1a1a" stroke-width="0.18" transform="rotate(-45 310.47 722.7)">TYR_489</text>
<line x1="319.73" y1="713.9" x2="319.73" y2="716.5" stroke="#aaa" stroke-width="0.8"/>
<text x="322.73" y="722.7" text-anchor="end" font-size="6.1" fill="#1a1a1a" stroke="#1a1a1a" stroke-width="0.18" transform="rotate(-45 322.73 722.7)">PHE_490</text>
<line x1="331.98" y1="713.9" x2="331.98" y2="716.5" stroke="#aaa" stroke-width="0.8"/>
<text x="334.98" y="722.7" text-anchor="end" font-size="6.1" fill="#1a1a1a" stroke="#1a1a1a" stroke-width="0.18" transform="rotate(-45 334.98 722.7)">TYR_493</text>
<line x1="344.23" y1="713.9" x2="344.23" y2="716.5" stroke="#aaa" stroke-width="0.8"/>
<text x="347.23" y="722.7" text-anchor="end" font-size="6.1" fill="#1a1a1a" stroke="#1a1a1a" stroke-width="0.18" transform="rotate(-45 347.23 722.7)">PHE_560</text>
<line x1="356.49" y1="713.9" x2="356.49" y2="716.5" stroke="#aaa" stroke-width="0.8"/>
<text x="359.49" y="722.7" text-anchor="end" font-size="6.1" fill="#1a1a1a" stroke="#1a1a1a" stroke-width="0.18" transform="rotate(-45 359.49 722.7)">TRP_592</text>
<line x1="368.74" y1="713.9" x2="368.74" y2="716.5" stroke="#aaa" stroke-width="0.8"/>
<text x="371.74" y="722.7" text-anchor="end" font-size="6.1" fill="#1a1a1a" stroke="#1a1a1a" stroke-width="0.18" transform="rotate(-45 371.74 722.7)">MET_599</text>
<line x1="380.99" y1="713.9" x2="380.99" y2="716.5" stroke="#aaa" stroke-width="0.8"/>
<text x="383.99" y="722.7" text-anchor="end" font-size="6.1" fill="#1a1a1a" stroke="#1a1a1a" stroke-width="0.18" transform="rotate(-45 383.99 722.7)">HIS_600</text>
<line x1="393.25" y1="713.9" x2="393.25" y2="716.5" stroke="#aaa" stroke-width="0.8"/>
<text x="396.25" y="722.7" text-anchor="end" font-size="6.1" fill="#1a1a1a" stroke="#1a1a1a" stroke-width="0.18" transform="rotate(-45 396.25 722.7)">GLU_603</text>
<text x="0" y="0" text-anchor="middle" font-size="10.3" fill="#8a8a8a" textLength="100.4" lengthAdjust="spacingAndGlyphs" transform="translate(18.1 650.1) rotate(-90)">Interactions Fraction</text>
<text x="0" y="0" font-size="100" font-weight="bold" fill="#000" transform="translate(2.81 595) scale(0.273 0.22)">d</text>
<rect x="102" y="753.2" width="241.2" height="11.8" fill="#bbb"/>
<rect x="101" y="752.2" width="241.2" height="11.8" fill="#fff" stroke="#ccc" stroke-width="0.8"/>
<rect x="102.9" y="755.1" width="8.9" height="6" fill="#7fc97f"/>
<text x="113.8" y="761.4" font-size="9.2" fill="#111" textLength="38.3" lengthAdjust="spacingAndGlyphs">H-bonds</text>
<rect x="155.5" y="755.1" width="9.1" height="6" fill="#beaed4"/>
<text x="166.4" y="761.4" font-size="9.2" fill="#111" textLength="57.5" lengthAdjust="spacingAndGlyphs">Hydrophobic</text>
<rect x="228.3" y="755.1" width="9.1" height="6" fill="#f0027f"/>
<text x="239.2" y="761.4" font-size="9.2" fill="#111" textLength="21.7" lengthAdjust="spacingAndGlyphs">Ionic</text>
<rect x="264.7" y="755.1" width="9.1" height="6" fill="#386cb0"/>
<text x="275.6" y="761.4" font-size="9.2" fill="#111" textLength="65.1" lengthAdjust="spacingAndGlyphs">Water bridges</text>
<!--DIAGRAMS-->
<circle cx="524.8" cy="27.6" r="4.5" fill="url(#gS)"/>
<circle cx="503.8" cy="37.8" r="4.5" fill="url(#gS)"/>
<circle cx="503.8" cy="57" r="4.5" fill="url(#gS)"/>
<circle cx="524.8" cy="66.7" r="4.5" fill="url(#gS)"/>
<circle cx="564.7" cy="86" r="4.5" fill="url(#gS)"/>
<circle cx="542.3" cy="115.5" r="4.5" fill="url(#gS)"/>
<circle cx="519.4" cy="119.7" r="4.5" fill="url(#gS)"/>
<circle cx="507.7" cy="102.2" r="4.5" fill="url(#gS)"/>
<line x1="524.8" y1="27.6" x2="544.9" y2="37.8" stroke="#2e2e2e" stroke-width="1.3" stroke-linecap="round" />
<line x1="525.85" y1="31.05" x2="541.49" y2="38.99" stroke="#2e2e2e" stroke-width="1.1700000000000002" stroke-linecap="round" />
<line x1="544.9" y1="37.8" x2="544.9" y2="57" stroke="#2e2e2e" stroke-width="1.3" stroke-linecap="round" />
<line x1="544.9" y1="57" x2="524.8" y2="66.7" stroke="#2e2e2e" stroke-width="1.3" stroke-linecap="round" />
<line x1="541.52" y1="55.74" x2="525.92" y2="63.27" stroke="#2e2e2e" stroke-width="1.1700000000000002" stroke-linecap="round" />
<line x1="524.8" y1="66.7" x2="503.8" y2="57" stroke="#2e2e2e" stroke-width="1.3" stroke-linecap="round" />
<line x1="503.8" y1="57" x2="503.8" y2="37.8" stroke="#2e2e2e" stroke-width="1.3" stroke-linecap="round" />
<line x1="506.4" y1="54.5" x2="506.4" y2="40.3" stroke="#2e2e2e" stroke-width="1.1700000000000002" stroke-linecap="round" />
<line x1="503.8" y1="37.8" x2="524.8" y2="27.6" stroke="#2e2e2e" stroke-width="1.3" stroke-linecap="round" />
<line x1="544.9" y1="37.8" x2="565.1" y2="27.6" stroke="#2e2e2e" stroke-width="1.3" stroke-linecap="round" />
<line x1="565.1" y1="27.6" x2="582.04" y2="35.67" stroke="#2e2e2e" stroke-width="1.3" stroke-linecap="round" />
<line x1="585.91" y1="41.6" x2="585.2" y2="57" stroke="#2e2e2e" stroke-width="1.3" stroke-linecap="round" />
<line x1="585.2" y1="57" x2="565.1" y2="66.7" stroke="#2e2e2e" stroke-width="1.3" stroke-linecap="round" />
<line x1="565.1" y1="66.7" x2="544.9" y2="57" stroke="#2e2e2e" stroke-width="1.3" stroke-linecap="round" />
<line x1="563.9" y1="27.61" x2="563.74" y2="12.31" stroke="#2e2e2e" stroke-width="1.1700000000000002" stroke-linecap="round" />
<line x1="566.3" y1="27.59" x2="566.14" y2="12.29" stroke="#2e2e2e" stroke-width="1.1700000000000002" stroke-linecap="round" />
<line x1="585.7" y1="55.91" x2="602.09" y2="63.45" stroke="#2e2e2e" stroke-width="1.1700000000000002" stroke-linecap="round" />
<line x1="584.7" y1="58.09" x2="601.08" y2="65.63" stroke="#2e2e2e" stroke-width="1.1700000000000002" stroke-linecap="round" />
<line x1="566.3" y1="66.72" x2="565.9" y2="86.02" stroke="#2e2e2e" stroke-width="1.1700000000000002" stroke-linecap="round" />
<line x1="563.9" y1="66.68" x2="563.5" y2="85.98" stroke="#2e2e2e" stroke-width="1.1700000000000002" stroke-linecap="round" />
<line x1="564.7" y1="86" x2="544" y2="96.2" stroke="#2e2e2e" stroke-width="1.3" stroke-linecap="round" />
<line x1="526.3" y1="89.96" x2="544" y2="96.2" stroke="#2e2e2e" stroke-width="1.3" stroke-linecap="round" />
<line x1="544" y1="96.2" x2="542.3" y2="115.5" stroke="#2e2e2e" stroke-width="1.3" stroke-linecap="round" />
<line x1="541.19" y1="98.46" x2="539.93" y2="112.78" stroke="#2e2e2e" stroke-width="1.1700000000000002" stroke-linecap="round" />
<line x1="542.3" y1="115.5" x2="519.4" y2="119.7" stroke="#2e2e2e" stroke-width="1.3" stroke-linecap="round" />
<line x1="519.4" y1="119.7" x2="507.7" y2="102.2" stroke="#2e2e2e" stroke-width="1.3" stroke-linecap="round" />
<line x1="520.17" y1="116.18" x2="511.25" y2="102.83" stroke="#2e2e2e" stroke-width="1.1700000000000002" stroke-linecap="round" />
<line x1="507.7" y1="102.2" x2="520.37" y2="91.11" stroke="#2e2e2e" stroke-width="1.3" stroke-linecap="round" />
<text x="564.9" y="10.89" font-size="7.2" fill="#d42020" text-anchor="middle" font-weight="normal" >O</text>
<text x="605.4" y="68.89" font-size="7.2" fill="#d42020" text-anchor="middle" font-weight="normal" >O</text>
<text x="588.4" y="39.8" font-size="7.0" fill="#2a2aa8" text-anchor="middle" font-weight="normal" >NH</text>
<text x="523" y="91.32" font-size="7.0" fill="#c4bc2a" text-anchor="middle" font-weight="normal" >S</text>
<text x="560.2" y="79.2" font-size="4.6" fill="#666" text-anchor="middle" font-weight="normal" >E</text>
<ellipse cx="617.6" cy="12" rx="10.2" ry="8.7" fill="url(#gP)" stroke="#58a8cc" stroke-width="0.7"/>
<text x="617.6" y="8.71" font-size="5.3" fill="#1a1a1a" text-anchor="middle" font-weight="normal" stroke="#1a1a1a" stroke-width="0.12">B:</text>
<text x="617.6" y="13.91" font-size="5.3" fill="#1a1a1a" text-anchor="middle" font-weight="normal" stroke="#1a1a1a" stroke-width="0.12">SER</text>
<text x="617.6" y="19.11" font-size="5.3" fill="#1a1a1a" text-anchor="middle" font-weight="normal" stroke="#1a1a1a" stroke-width="0.12">283</text>
<ellipse cx="464.2" cy="73.5" rx="10" ry="8.4" fill="url(#gH)" stroke="#8aa83a" stroke-width="0.7"/>
<text x="464.2" y="70.21" font-size="5.3" fill="#1a1a1a" text-anchor="middle" font-weight="normal" stroke="#1a1a1a" stroke-width="0.12">B:</text>
<text x="464.2" y="75.41" font-size="5.3" fill="#1a1a1a" text-anchor="middle" font-weight="normal" stroke="#1a1a1a" stroke-width="0.12">TYR</text>
<text x="464.2" y="80.61" font-size="5.3" fill="#1a1a1a" text-anchor="middle" font-weight="normal" stroke="#1a1a1a" stroke-width="0.12">493</text>
<ellipse cx="629.1" cy="99.1" rx="10" ry="8.4" fill="url(#gH)" stroke="#8aa83a" stroke-width="0.7"/>
<text x="629.1" y="95.81" font-size="5.3" fill="#1a1a1a" text-anchor="middle" font-weight="normal" stroke="#1a1a1a" stroke-width="0.12">B:</text>
<text x="629.1" y="101.01" font-size="5.3" fill="#1a1a1a" text-anchor="middle" font-weight="normal" stroke="#1a1a1a" stroke-width="0.12">TRP</text>
<text x="629.1" y="106.21" font-size="5.3" fill="#1a1a1a" text-anchor="middle" font-weight="normal" stroke="#1a1a1a" stroke-width="0.12">245</text>
<ellipse cx="586.6" cy="122" rx="10" ry="8.4" fill="url(#gH)" stroke="#8aa83a" stroke-width="0.7"/>
<text x="586.6" y="118.71" font-size="5.3" fill="#1a1a1a" text-anchor="middle" font-weight="normal" stroke="#1a1a1a" stroke-width="0.12">B:</text>
<text x="586.6" y="123.91" font-size="5.3" fill="#1a1a1a" text-anchor="middle" font-weight="normal" stroke="#1a1a1a" stroke-width="0.12">PHE</text>
<text x="586.6" y="129.11" font-size="5.3" fill="#1a1a1a" text-anchor="middle" font-weight="normal" stroke="#1a1a1a" stroke-width="0.12">490</text>
<ellipse cx="482.7" cy="141.3" rx="10" ry="8.4" fill="url(#gH)" stroke="#8aa83a" stroke-width="0.7"/>
<text x="482.7" y="138.01" font-size="5.3" fill="#1a1a1a" text-anchor="middle" font-weight="normal" stroke="#1a1a1a" stroke-width="0.12">B:</text>
<text x="482.7" y="143.21" font-size="5.3" fill="#1a1a1a" text-anchor="middle" font-weight="normal" stroke="#1a1a1a" stroke-width="0.12">TYR</text>
<text x="482.7" y="148.41" font-size="5.3" fill="#1a1a1a" text-anchor="middle" font-weight="normal" stroke="#1a1a1a" stroke-width="0.12">489</text>
<ellipse cx="574.3" cy="170" rx="10" ry="8.6" fill="url(#gP)" stroke="#58a8cc" stroke-width="0.7"/>
<text x="574.3" y="166.71" font-size="5.3" fill="#1a1a1a" text-anchor="middle" font-weight="normal" stroke="#1a1a1a" stroke-width="0.12">B:</text>
<text x="574.3" y="171.91" font-size="5.3" fill="#1a1a1a" text-anchor="middle" font-weight="normal" stroke="#1a1a1a" stroke-width="0.12">HIS</text>
<text x="574.3" y="177.11" font-size="5.3" fill="#1a1a1a" text-anchor="middle" font-weight="normal" stroke="#1a1a1a" stroke-width="0.12">600</text>
<line x1="596" y1="32.5" x2="609.5" y2="20" stroke="#d398e6" stroke-width="0.6" stroke-linecap="round" />
<rect x="597.9" y="20.32" width="12.6" height="4.56" fill="#fff"/>
<text x="604.2" y="24.76" font-size="6.0" fill="#c77fdb" text-anchor="middle" font-weight="normal" >62%</text>
<line x1="522.2" y1="49.2" x2="474.6" y2="70.4" stroke="#6cbf6c" stroke-width="0.55" stroke-linecap="round" />
<circle cx="522.2" cy="49.2" r="0.9" fill="#6cbf6c"/><circle cx="474.6" cy="70.4" r="0.9" fill="#6cbf6c"/>
<rect x="486.4" y="56.72" width="12.6" height="4.56" fill="#fff"/>
<text x="492.7" y="61.16" font-size="6.0" fill="#8fcf8f" text-anchor="middle" font-weight="normal" >40%</text>
<line x1="530" y1="103.2" x2="577" y2="119" stroke="#6cbf6c" stroke-width="0.55" stroke-linecap="round" />
<circle cx="530" cy="103.2" r="0.9" fill="#6cbf6c"/><circle cx="577" cy="119" r="0.9" fill="#6cbf6c"/>
<rect x="551.7" y="108.12" width="12.6" height="4.56" fill="#fff"/>
<text x="558" y="112.56" font-size="6.0" fill="#8fcf8f" text-anchor="middle" font-weight="normal" >32%</text>
<line x1="530" y1="103.2" x2="571" y2="161.5" stroke="#6cbf6c" stroke-width="0.55" stroke-linecap="round" />
<circle cx="530" cy="103.2" r="0.9" fill="#6cbf6c"/><circle cx="571" cy="161.5" r="0.9" fill="#6cbf6c"/>
<rect x="545.7" y="132.62" width="12.6" height="4.56" fill="#fff"/>
<text x="552" y="137.06" font-size="6.0" fill="#8fcf8f" text-anchor="middle" font-weight="normal" >39%</text>
<line x1="420" y1="184.6" x2="672" y2="184.6" stroke="#e2e2e2" stroke-width="0.6" stroke-linecap="round" />
<circle cx="429" cy="188.3" r="2.6" fill="url(#gH)"/>
<text x="437.7" y="190.46" font-size="6.0" fill="#333" text-anchor="start" font-weight="normal" >Hydrophobic</text>
<circle cx="492.3" cy="188.3" r="2.6" fill="url(#gP)"/>
<text x="501" y="190.46" font-size="6.0" fill="#333" text-anchor="start" font-weight="normal" >Polar</text>
<line x1="551.6" y1="188" x2="559.1" y2="188" stroke="#4aa84a" stroke-width="0.8" stroke-linecap="round" />
<circle cx="551.6" cy="188" r="1.1" fill="#4aa84a"/><circle cx="559.1" cy="188" r="1.1" fill="#4aa84a"/>
<text x="564.3" y="190.46" font-size="6.0" fill="#333" text-anchor="start" font-weight="normal" >Pi-Pi stacking</text>
<circle cx="618.6" cy="188.3" r="2.8" fill="url(#gS)"/>
<text x="627.5" y="190.46" font-size="6.0" fill="#333" text-anchor="start" font-weight="normal" >Solvent exposure</text>
<circle cx="607.3" cy="259.9" r="4.2" fill="url(#gS)"/>
<circle cx="625.4" cy="268.7" r="4.2" fill="url(#gS)"/>
<circle cx="625.4" cy="288" r="4.2" fill="url(#gS)"/>
<circle cx="607.3" cy="297.6" r="4.2" fill="url(#gS)"/>
<circle cx="517.7" cy="291.3" r="4.2" fill="url(#gS)"/>
<circle cx="608.1" cy="318.6" r="4.2" fill="url(#gS)"/>
<circle cx="622.9" cy="332.8" r="4.2" fill="url(#gS)"/>
<circle cx="612.8" cy="346.9" r="4.2" fill="url(#gS)"/>
<line x1="574.2" y1="258.1" x2="576.59" y2="242.75" stroke="#2e2e2e" stroke-width="1.3" stroke-linecap="round" />
<line x1="574.59" y1="259.24" x2="563.07" y2="263.15" stroke="#2e2e2e" stroke-width="1.1700000000000002" stroke-linecap="round" />
<line x1="573.81" y1="256.96" x2="562.3" y2="260.88" stroke="#2e2e2e" stroke-width="1.1700000000000002" stroke-linecap="round" />
<line x1="574.2" y1="258.1" x2="589.8" y2="269.3" stroke="#2e2e2e" stroke-width="1.3" stroke-linecap="round" />
<line x1="589.8" y1="269.3" x2="607.3" y2="259.9" stroke="#2e2e2e" stroke-width="1.3" stroke-linecap="round" />
<line x1="593.23" y1="270.41" x2="606.33" y2="263.37" stroke="#2e2e2e" stroke-width="1.1700000000000002" stroke-linecap="round" />
<line x1="607.3" y1="259.9" x2="625.4" y2="268.7" stroke="#2e2e2e" stroke-width="1.3" stroke-linecap="round" />
<line x1="625.4" y1="268.7" x2="625.4" y2="288" stroke="#2e2e2e" stroke-width="1.3" stroke-linecap="round" />
<line x1="622.8" y1="271.2" x2="622.8" y2="285.5" stroke="#2e2e2e" stroke-width="1.1700000000000002" stroke-linecap="round" />
<line x1="625.4" y1="288" x2="607.3" y2="297.6" stroke="#2e2e2e" stroke-width="1.3" stroke-linecap="round" />
<line x1="607.3" y1="297.6" x2="589.8" y2="288.5" stroke="#2e2e2e" stroke-width="1.3" stroke-linecap="round" />
<line x1="606.28" y1="294.14" x2="593.22" y2="287.35" stroke="#2e2e2e" stroke-width="1.1700000000000002" stroke-linecap="round" />
<line x1="589.8" y1="288.5" x2="589.8" y2="269.3" stroke="#2e2e2e" stroke-width="1.3" stroke-linecap="round" />
<line x1="589.8" y1="288.5" x2="571" y2="298.9" stroke="#2e2e2e" stroke-width="1.3" stroke-linecap="round" />
<line x1="571" y1="298.9" x2="552.2" y2="292.6" stroke="#2e2e2e" stroke-width="1.3" stroke-linecap="round" />
<line x1="551" y1="292.65" x2="550.55" y2="281.04" stroke="#2e2e2e" stroke-width="1.1700000000000002" stroke-linecap="round" />
<line x1="553.4" y1="292.55" x2="552.95" y2="280.95" stroke="#2e2e2e" stroke-width="1.1700000000000002" stroke-linecap="round" />
<line x1="552.2" y1="292.6" x2="538.12" y2="299.81" stroke="#2e2e2e" stroke-width="1.3" stroke-linecap="round" />
<line x1="531.98" y1="299.64" x2="517.7" y2="291.3" stroke="#2e2e2e" stroke-width="1.3" stroke-linecap="round" />
<line x1="572.2" y1="298.84" x2="573.2" y2="318.54" stroke="#2e2e2e" stroke-width="1.1700000000000002" stroke-linecap="round" />
<line x1="569.8" y1="298.96" x2="570.8" y2="318.66" stroke="#2e2e2e" stroke-width="1.1700000000000002" stroke-linecap="round" />
<line x1="572" y1="318.6" x2="589.3" y2="326.5" stroke="#2e2e2e" stroke-width="1.3" stroke-linecap="round" />
<line x1="589.3" y1="326.5" x2="608.1" y2="318.6" stroke="#2e2e2e" stroke-width="1.3" stroke-linecap="round" />
<line x1="592.61" y1="327.93" x2="606.8" y2="321.97" stroke="#2e2e2e" stroke-width="1.1700000000000002" stroke-linecap="round" />
<line x1="608.1" y1="318.6" x2="622.9" y2="332.8" stroke="#2e2e2e" stroke-width="1.3" stroke-linecap="round" />
<line x1="622.9" y1="332.8" x2="612.8" y2="346.9" stroke="#2e2e2e" stroke-width="1.3" stroke-linecap="round" />
<line x1="619.33" y1="333.32" x2="612.14" y2="343.35" stroke="#2e2e2e" stroke-width="1.1700000000000002" stroke-linecap="round" />
<line x1="612.8" y1="346.9" x2="595.88" y2="345.08" stroke="#2e2e2e" stroke-width="1.3" stroke-linecap="round" />
<line x1="591.81" y1="341.25" x2="589.3" y2="326.5" stroke="#2e2e2e" stroke-width="1.3" stroke-linecap="round" />
<text x="576.4" y="241.32" font-size="7.0" fill="#d42020" text-anchor="middle" font-weight="normal" >O</text>
<text x="582" y="236.5" font-size="5" fill="#d42020" text-anchor="middle" font-weight="normal" >−</text>
<text x="558.9" y="265.82" font-size="7.0" fill="#d42020" text-anchor="middle" font-weight="normal" >O</text>
<text x="551.6" y="279.52" font-size="7.0" fill="#d42020" text-anchor="middle" font-weight="normal" >O</text>
<text x="535" y="303.92" font-size="7.0" fill="#d42020" text-anchor="middle" font-weight="normal" >O</text>
<text x="592.4" y="347.15" font-size="6.8" fill="#c4bc2a" text-anchor="middle" font-weight="normal" >S</text>
<text x="566.8" y="311.5" font-size="4.4" fill="#666" text-anchor="middle" font-weight="normal" >E</text>
<ellipse cx="499.9" cy="202.7" rx="9" ry="7.9" fill="url(#gG)" stroke="#a8a890" stroke-width="0.7"/>
<text x="499.9" y="199.66" font-size="4.9" fill="#1a1a1a" text-anchor="middle" font-weight="normal" stroke="#1a1a1a" stroke-width="0.12">B:</text>
<text x="499.9" y="204.46" font-size="4.9" fill="#1a1a1a" text-anchor="middle" font-weight="normal" stroke="#1a1a1a" stroke-width="0.12">GLY</text>
<text x="499.9" y="209.26" font-size="4.9" fill="#1a1a1a" text-anchor="middle" font-weight="normal" stroke="#1a1a1a" stroke-width="0.12">278</text>
<ellipse cx="561.1" cy="206" rx="8.8" ry="8" fill="url(#gP)" stroke="#58a8cc" stroke-width="0.7"/>
<text x="561.1" y="202.96" font-size="4.9" fill="#1a1a1a" text-anchor="middle" font-weight="normal" stroke="#1a1a1a" stroke-width="0.12">B:</text>
<text x="561.1" y="207.76" font-size="4.9" fill="#1a1a1a" text-anchor="middle" font-weight="normal" stroke="#1a1a1a" stroke-width="0.12">SER</text>
<text x="561.1" y="212.56" font-size="4.9" fill="#1a1a1a" text-anchor="middle" font-weight="normal" stroke="#1a1a1a" stroke-width="0.12">280</text>
<ellipse cx="593.2" cy="207.4" rx="9.3" ry="8" fill="url(#gP)" stroke="#58a8cc" stroke-width="0.7"/>
<text x="593.2" y="204.36" font-size="4.9" fill="#1a1a1a" text-anchor="middle" font-weight="normal" stroke="#1a1a1a" stroke-width="0.12">B:</text>
<text x="593.2" y="209.16" font-size="4.9" fill="#1a1a1a" text-anchor="middle" font-weight="normal" stroke="#1a1a1a" stroke-width="0.12">SER</text>
<text x="593.2" y="213.96" font-size="4.9" fill="#1a1a1a" text-anchor="middle" font-weight="normal" stroke="#1a1a1a" stroke-width="0.12">360</text>
<ellipse cx="445.9" cy="242.1" rx="9.3" ry="8" fill="url(#gH)" stroke="#8aa83a" stroke-width="0.7"/>
<text x="445.9" y="239.06" font-size="4.9" fill="#1a1a1a" text-anchor="middle" font-weight="normal" stroke="#1a1a1a" stroke-width="0.12">B:</text>
<text x="445.9" y="243.86" font-size="4.9" fill="#1a1a1a" text-anchor="middle" font-weight="normal" stroke="#1a1a1a" stroke-width="0.12">TYR</text>
<text x="445.9" y="248.66" font-size="4.9" fill="#1a1a1a" text-anchor="middle" font-weight="normal" stroke="#1a1a1a" stroke-width="0.12">291</text>
<ellipse cx="433.2" cy="267.3" rx="9" ry="7.9" fill="url(#gG)" stroke="#a8a890" stroke-width="0.7"/>
<text x="433.2" y="264.26" font-size="4.9" fill="#1a1a1a" text-anchor="middle" font-weight="normal" stroke="#1a1a1a" stroke-width="0.12">B:</text>
<text x="433.2" y="269.06" font-size="4.9" fill="#1a1a1a" text-anchor="middle" font-weight="normal" stroke="#1a1a1a" stroke-width="0.12">GLY</text>
<text x="433.2" y="273.86" font-size="4.9" fill="#1a1a1a" text-anchor="middle" font-weight="normal" stroke="#1a1a1a" stroke-width="0.12">279</text>
<ellipse cx="665.3" cy="287.3" rx="9" ry="8" fill="url(#gH)" stroke="#8aa83a" stroke-width="0.7"/>
<text x="665.3" y="284.26" font-size="4.9" fill="#1a1a1a" text-anchor="middle" font-weight="normal" stroke="#1a1a1a" stroke-width="0.12">B:</text>
<text x="665.3" y="289.06" font-size="4.9" fill="#1a1a1a" text-anchor="middle" font-weight="normal" stroke="#1a1a1a" stroke-width="0.12">TYR</text>
<text x="665.3" y="293.86" font-size="4.9" fill="#1a1a1a" text-anchor="middle" font-weight="normal" stroke="#1a1a1a" stroke-width="0.12">489</text>
<ellipse cx="656.1" cy="314" rx="9" ry="8" fill="url(#gP)" stroke="#58a8cc" stroke-width="0.7"/>
<text x="656.1" y="310.96" font-size="4.9" fill="#1a1a1a" text-anchor="middle" font-weight="normal" stroke="#1a1a1a" stroke-width="0.12">B:</text>
<text x="656.1" y="315.76" font-size="4.9" fill="#1a1a1a" text-anchor="middle" font-weight="normal" stroke="#1a1a1a" stroke-width="0.12">HIS</text>
<text x="656.1" y="320.56" font-size="4.9" fill="#1a1a1a" text-anchor="middle" font-weight="normal" stroke="#1a1a1a" stroke-width="0.12">600</text>
<ellipse cx="552.2" cy="351" rx="9" ry="8" fill="url(#gH)" stroke="#8aa83a" stroke-width="0.7"/>
<text x="552.2" y="347.96" font-size="4.9" fill="#1a1a1a" text-anchor="middle" font-weight="normal" stroke="#1a1a1a" stroke-width="0.12">B:</text>
<text x="552.2" y="352.76" font-size="4.9" fill="#1a1a1a" text-anchor="middle" font-weight="normal" stroke="#1a1a1a" stroke-width="0.12">TRP</text>
<text x="552.2" y="357.56" font-size="4.9" fill="#1a1a1a" text-anchor="middle" font-weight="normal" stroke="#1a1a1a" stroke-width="0.12">245</text>
<ellipse cx="541.4" cy="227.9" rx="6.3" ry="5.8" fill="url(#gW)" stroke="#cfcfcf" stroke-width="0.5"/>
<text x="541.4" y="229.7" font-size="5.0" fill="#333" text-anchor="middle">H<tspan font-size="3.5" dy="1">2</tspan><tspan dy="-1">O</tspan></text>
<ellipse cx="522.8" cy="250.5" rx="6.3" ry="5.8" fill="url(#gW)" stroke="#cfcfcf" stroke-width="0.5"/>
<text x="522.8" y="252.3" font-size="5.0" fill="#333" text-anchor="middle">H<tspan font-size="3.5" dy="1">2</tspan><tspan dy="-1">O</tspan></text>
<line x1="507.5" y1="207.5" x2="534.8" y2="222.8" stroke="#d398e6" stroke-width="0.75" stroke-linecap="round" />
<polygon points="534.8,222.8 531.96,222.55 533.1,220.51" fill="#d398e6"/>
<rect x="514.3" y="210.66" width="12.4" height="4.48" fill="#fff"/>
<text x="520.5" y="215.02" font-size="5.9" fill="#c77fdb" text-anchor="middle" font-weight="normal" >53%</text>
<line x1="455" y1="243.5" x2="514.5" y2="249.2" stroke="#d398e6" stroke-width="0.75" stroke-linecap="round" stroke-dasharray="1.2,0.9"/>
<polygon points="514.5,249.2 511.8,250.12 512.02,247.79" fill="#d398e6"/>
<rect x="477.5" y="241.96" width="12.4" height="4.48" fill="#fff"/>
<text x="483.7" y="246.32" font-size="5.9" fill="#c77fdb" text-anchor="middle" font-weight="normal" >57%</text>
<line x1="442" y1="267.3" x2="554.5" y2="263.3" stroke="#d398e6" stroke-width="0.75" stroke-linecap="round" />
<polygon points="554.5,263.3 551.94,264.56 551.86,262.22" fill="#d398e6"/>
<rect x="489.8" y="260.76" width="12.4" height="4.48" fill="#fff"/>
<text x="496" y="265.12" font-size="5.9" fill="#c77fdb" text-anchor="middle" font-weight="normal" >76%</text>
<line x1="544.6" y1="233.8" x2="556.8" y2="259" stroke="#d398e6" stroke-width="0.75" stroke-linecap="round" />
<polygon points="556.8,259 554.61,257.17 556.72,256.15" fill="#d398e6"/>
<rect x="543.2" y="240.96" width="12.4" height="4.48" fill="#fff"/>
<text x="549.4" y="245.32" font-size="5.9" fill="#c77fdb" text-anchor="middle" font-weight="normal" >58%</text>
<line x1="529.3" y1="252.8" x2="554.5" y2="261.8" stroke="#d398e6" stroke-width="0.75" stroke-linecap="round" />
<polygon points="554.5,261.8 551.66,262.03 552.44,259.82" fill="#d398e6"/>
<rect x="534.5" y="252.66" width="12.4" height="4.48" fill="#fff"/>
<text x="540.7" y="257.02" font-size="5.9" fill="#c77fdb" text-anchor="middle" font-weight="normal" >57%</text>
<line x1="557.5" y1="214" x2="574" y2="234" stroke="#d398e6" stroke-width="0.75" stroke-linecap="round" />
<polygon points="574,234 571.44,232.74 573.25,231.25" fill="#d398e6"/>
<rect x="557.1" y="220.46" width="12.4" height="4.48" fill="#fff"/>
<text x="563.3" y="224.82" font-size="5.9" fill="#c77fdb" text-anchor="middle" font-weight="normal" >42%</text>
<path d="M563.5,213.8 Q576,218 575.6,233.6" fill="none" stroke="#d398e6" stroke-width="0.75"/>
<polygon points="575.6,234.6 574.4,231.6 576.8,231.6" fill="#d398e6"/>
<rect x="568.8" y="216.16" width="12.4" height="4.48" fill="#fff"/>
<text x="575" y="220.52" font-size="5.9" fill="#c77fdb" text-anchor="middle" font-weight="normal" >62%</text>
<line x1="590.5" y1="215" x2="579" y2="234" stroke="#d398e6" stroke-width="0.75" stroke-linecap="round" />
<polygon points="579,234 579.35,231.17 581.35,232.38" fill="#d398e6"/>
<rect x="579" y="219.06" width="12.4" height="4.48" fill="#fff"/>
<text x="585.2" y="223.42" font-size="5.9" fill="#c77fdb" text-anchor="middle" font-weight="normal" >81%</text>
<line x1="606.5" y1="280" x2="656.5" y2="286.8" stroke="#6cbf6c" stroke-width="0.55" stroke-linecap="round" />
<circle cx="606.5" cy="280" r="0.9" fill="#6cbf6c"/><circle cx="656.5" cy="286.8" r="0.9" fill="#6cbf6c"/>
<rect x="631.3" y="279.36" width="12.4" height="4.48" fill="#fff"/>
<text x="637.5" y="283.72" font-size="5.9" fill="#8fcf8f" text-anchor="middle" font-weight="normal" >49%</text>
<line x1="606.5" y1="280" x2="650" y2="307.5" stroke="#6cbf6c" stroke-width="0.55" stroke-linecap="round" />
<circle cx="606.5" cy="280" r="0.9" fill="#6cbf6c"/><circle cx="650" cy="307.5" r="0.9" fill="#6cbf6c"/>
<rect x="627" y="291.26" width="12.4" height="4.48" fill="#fff"/>
<text x="633.2" y="295.62" font-size="5.9" fill="#8fcf8f" text-anchor="middle" font-weight="normal" >54%</text>
<line x1="605" y1="333.5" x2="561" y2="349" stroke="#6cbf6c" stroke-width="0.55" stroke-linecap="round" />
<circle cx="605" cy="333.5" r="0.9" fill="#6cbf6c"/><circle cx="561" cy="349" r="0.9" fill="#6cbf6c"/>
<rect x="570.5" y="336.76" width="12.4" height="4.48" fill="#fff"/>
<text x="576.7" y="341.12" font-size="5.9" fill="#8fcf8f" text-anchor="middle" font-weight="normal" >36%</text>
<circle cx="427.5" cy="367.6" r="2.6" fill="url(#gG)"/>
<text x="436" y="369.76" font-size="6.0" fill="#333" text-anchor="start" font-weight="normal" >Glycine</text>
<circle cx="427.5" cy="374.7" r="2.6" fill="url(#gH)"/>
<text x="436" y="376.86" font-size="6.0" fill="#333" text-anchor="start" font-weight="normal" >Hydrophobic</text>
<circle cx="492.9" cy="367.6" r="2.6" fill="url(#gP)"/>
<text x="501.5" y="369.76" font-size="6.0" fill="#333" text-anchor="start" font-weight="normal" >Polar</text>
<circle cx="492.9" cy="374.7" r="2.6" fill="url(#gW)"/>
<text x="501.5" y="376.86" font-size="6.0" fill="#333" text-anchor="start" font-weight="normal" >Water</text>
<line x1="555" y1="367.6" x2="562.5" y2="367.6" stroke="#4aa84a" stroke-width="0.8" stroke-linecap="round" />
<circle cx="555" cy="367.6" r="1.1" fill="#4aa84a"/><circle cx="562.5" cy="367.6" r="1.1" fill="#4aa84a"/>
<text x="567.3" y="369.76" font-size="6.0" fill="#333" text-anchor="start" font-weight="normal" >Pi-Pi stacking</text>
<circle cx="559" cy="374.7" r="2.8" fill="url(#gS)"/>
<text x="567.3" y="376.86" font-size="6.0" fill="#333" text-anchor="start" font-weight="normal" >Solvent exposure</text>
<circle cx="571.8" cy="415.7" r="4.2" fill="url(#gS)"/>
<circle cx="587.6" cy="451" r="4.2" fill="url(#gS)"/>
<circle cx="613.7" cy="451" r="4.2" fill="url(#gS)"/>
<circle cx="593.9" cy="535.3" r="4.2" fill="url(#gS)"/>
<line x1="528.1" y1="469.58" x2="544.1" y2="469.52" stroke="#2e2e2e" stroke-width="1.3" stroke-linecap="round" />
<line x1="549.08" y1="465.3" x2="549.02" y2="452.3" stroke="#2e2e2e" stroke-width="1.3" stroke-linecap="round" />
<line x1="554.1" y1="469.62" x2="570.9" y2="470.01" stroke="#2e2e2e" stroke-width="1.3" stroke-linecap="round" />
<line x1="549" y1="473.7" x2="548.69" y2="487.5" stroke="#2e2e2e" stroke-width="1.3" stroke-linecap="round" />
<line x1="552.64" y1="446.64" x2="571.8" y2="437.9" stroke="#2e2e2e" stroke-width="1.3" stroke-linecap="round" />
<line x1="571.8" y1="437.9" x2="571.8" y2="415.7" stroke="#2e2e2e" stroke-width="1.3" stroke-linecap="round" />
<line x1="577.11" y1="466.77" x2="587.6" y2="451" stroke="#2e2e2e" stroke-width="1.3" stroke-linecap="round" />
<line x1="587.6" y1="451" x2="613.7" y2="451" stroke="#2e2e2e" stroke-width="1.3" stroke-linecap="round" />
<line x1="552.21" y1="493.21" x2="571.4" y2="502.3" stroke="#2e2e2e" stroke-width="1.3" stroke-linecap="round" />
<line x1="571.4" y1="502.3" x2="590.29" y2="493.23" stroke="#2e2e2e" stroke-width="1.3" stroke-linecap="round" />
<line x1="574.78" y1="503.56" x2="589.17" y2="496.66" stroke="#2e2e2e" stroke-width="1.1700000000000002" stroke-linecap="round" />
<line x1="597.41" y1="493.43" x2="615.2" y2="503.2" stroke="#2e2e2e" stroke-width="1.3" stroke-linecap="round" />
<line x1="615.2" y1="503.2" x2="615.2" y2="523.6" stroke="#2e2e2e" stroke-width="1.3" stroke-linecap="round" />
<line x1="612.6" y1="505.7" x2="612.6" y2="521.1" stroke="#2e2e2e" stroke-width="1.1700000000000002" stroke-linecap="round" />
<line x1="615.2" y1="523.6" x2="593.9" y2="535.3" stroke="#2e2e2e" stroke-width="1.3" stroke-linecap="round" />
<line x1="593.9" y1="535.3" x2="571.4" y2="523.6" stroke="#2e2e2e" stroke-width="1.3" stroke-linecap="round" />
<line x1="592.88" y1="531.84" x2="574.82" y2="522.45" stroke="#2e2e2e" stroke-width="1.1700000000000002" stroke-linecap="round" />
<line x1="571.4" y1="523.6" x2="571.4" y2="502.3" stroke="#2e2e2e" stroke-width="1.3" stroke-linecap="round" />
<line x1="615.2" y1="503.2" x2="632.95" y2="494.63" stroke="#2e2e2e" stroke-width="1.3" stroke-linecap="round" />
<line x1="615.2" y1="523.6" x2="633.01" y2="532.65" stroke="#2e2e2e" stroke-width="1.3" stroke-linecap="round" />
<line x1="571.4" y1="523.6" x2="553.59" y2="532.65" stroke="#2e2e2e" stroke-width="1.3" stroke-linecap="round" />
<text x="523.3" y="472.26" font-size="7.4" fill="#c4bc2a" text-anchor="middle" font-weight="normal" >S</text>
<text x="529.2" y="467.3" font-size="5.5" fill="#c4bc2a" text-anchor="middle" font-weight="normal" >−</text>
<text x="548.7" y="472.56" font-size="7.4" fill="#e08a1e" text-anchor="middle" font-weight="normal" >P</text>
<text x="554.6" y="467" font-size="5.5" fill="#e08a1e" text-anchor="middle" font-weight="normal" >+</text>
<text x="549" y="450.89" font-size="7.2" fill="#d42020" text-anchor="middle" font-weight="normal" >O</text>
<text x="574.9" y="472.69" font-size="7.2" fill="#d42020" text-anchor="middle" font-weight="normal" >O</text>
<text x="548.6" y="494.09" font-size="7.2" fill="#d42020" text-anchor="middle" font-weight="normal" >O</text>
<text x="593.9" y="494.09" font-size="7.2" fill="#2b2bb0" text-anchor="middle" font-weight="normal" >N</text>
<text x="638.8" y="494.61" font-size="7.8" fill="#33bb33" text-anchor="middle" font-weight="normal" >Cl</text>
<text x="638.8" y="538.41" font-size="7.8" fill="#33bb33" text-anchor="middle" font-weight="normal" >Cl</text>
<text x="547.8" y="538.41" font-size="7.8" fill="#33bb33" text-anchor="middle" font-weight="normal" >Cl</text>
<ellipse cx="648" cy="390.7" rx="7.2" ry="6.2" fill="url(#gW)" stroke="#cfcfcf" stroke-width="0.5"/>
<text x="648" y="392.57" font-size="5.2" fill="#333" text-anchor="middle">H<tspan font-size="3.64" dy="1">2</tspan><tspan dy="-1">O</tspan></text>
<ellipse cx="479.4" cy="488.6" rx="7.2" ry="6.2" fill="url(#gW)" stroke="#cfcfcf" stroke-width="0.5"/>
<text x="479.4" y="490.47" font-size="5.2" fill="#333" text-anchor="middle">H<tspan font-size="3.64" dy="1">2</tspan><tspan dy="-1">O</tspan></text>
<ellipse cx="424.9" cy="462.9" rx="11.3" ry="9" fill="url(#gH)" stroke="#8aa83a" stroke-width="0.7"/>
<text x="424.9" y="459.02" font-size="5.6" fill="#1a1a1a" text-anchor="middle" font-weight="normal" stroke="#1a1a1a" stroke-width="0.12">B:</text>
<text x="424.9" y="464.92" font-size="5.6" fill="#1a1a1a" text-anchor="middle" font-weight="normal" stroke="#1a1a1a" stroke-width="0.12">TYR</text>
<text x="424.9" y="470.82" font-size="5.6" fill="#1a1a1a" text-anchor="middle" font-weight="normal" stroke="#1a1a1a" stroke-width="0.12">489</text>
<ellipse cx="665.3" cy="455.3" rx="11" ry="9" fill="url(#gN)" stroke="#b84810" stroke-width="0.7"/>
<text x="665.3" y="451.42" font-size="5.6" fill="#2a1408" text-anchor="middle" font-weight="normal" stroke="#2a1408" stroke-width="0.12">B:</text>
<text x="665.3" y="457.32" font-size="5.6" fill="#2a1408" text-anchor="middle" font-weight="normal" stroke="#2a1408" stroke-width="0.12">GLU</text>
<text x="665.3" y="463.22" font-size="5.6" fill="#2a1408" text-anchor="middle" font-weight="normal" stroke="#2a1408" stroke-width="0.12">486</text>
<ellipse cx="469.8" cy="546.1" rx="11.3" ry="9" fill="url(#gH)" stroke="#8aa83a" stroke-width="0.7"/>
<text x="469.8" y="542.22" font-size="5.6" fill="#1a1a1a" text-anchor="middle" font-weight="normal" stroke="#1a1a1a" stroke-width="0.12">B:</text>
<text x="469.8" y="548.12" font-size="5.6" fill="#1a1a1a" text-anchor="middle" font-weight="normal" stroke="#1a1a1a" stroke-width="0.12">TRP</text>
<text x="469.8" y="554.02" font-size="5.6" fill="#1a1a1a" text-anchor="middle" font-weight="normal" stroke="#1a1a1a" stroke-width="0.12">245</text>
<line x1="436.5" y1="467.5" x2="471.5" y2="484.5" stroke="#d398e6" stroke-width="0.75" stroke-linecap="round" />
<polygon points="471.5,484.5 468.65,484.42 469.67,482.31" fill="#d398e6"/>
<rect x="444.6" y="470.53" width="13.6" height="4.94" fill="#fff"/>
<text x="451.4" y="475.34" font-size="6.5" fill="#c77fdb" text-anchor="middle" font-weight="normal" >84%</text>
<line x1="487.5" y1="485" x2="516.5" y2="472" stroke="#d398e6" stroke-width="0.75" stroke-linecap="round" />
<polygon points="516.5,472 514.61,474.13 513.65,472" fill="#d398e6"/>
<rect x="493.2" y="473.93" width="13.6" height="4.94" fill="#fff"/>
<text x="500" y="478.74" font-size="6.5" fill="#c77fdb" text-anchor="middle" font-weight="normal" >84%</text>
<line x1="641" y1="395" x2="531.5" y2="465.5" stroke="#d398e6" stroke-width="0.75" stroke-linecap="round" />
<polygon points="531.5,465.5 533.05,463.11 534.32,465.08" fill="#d398e6"/>
<rect x="578.2" y="425.23" width="13.6" height="4.94" fill="#fff"/>
<text x="585" y="430.04" font-size="6.5" fill="#c77fdb" text-anchor="middle" font-weight="normal" >85%</text>
<line x1="650.5" y1="397.5" x2="661" y2="445.5" stroke="#d398e6" stroke-width="0.75" stroke-linecap="round" />
<polygon points="661,445.5 659.3,443.21 661.59,442.71" fill="#d398e6"/>
<rect x="649.2" y="417.83" width="13.6" height="4.94" fill="#fff"/>
<text x="656" y="422.64" font-size="6.5" fill="#c77fdb" text-anchor="middle" font-weight="normal" >85%</text>
<line x1="478.5" y1="538.5" x2="546" y2="473.5" stroke="#cc4444" stroke-width="0.8" stroke-linecap="round" />
<polygon points="546,473.5 544.94,476.15 543.32,474.46" fill="#cc4444"/>
<rect x="502.4" y="503.33" width="13.6" height="4.94" fill="#fff"/>
<text x="509.2" y="508.14" font-size="6.5" fill="#d05050" text-anchor="middle" font-weight="normal" >91%</text>
<line x1="480.5" y1="544.5" x2="593.9" y2="510.5" stroke="#3a9c3a" stroke-width="0.7" stroke-linecap="round" />
<circle cx="480.5" cy="544.5" r="1.1" fill="#3a9c3a"/><circle cx="593.9" cy="510.5" r="1.1" fill="#3a9c3a"/>
<rect x="524.6" y="523.23" width="13.6" height="4.94" fill="#fff"/>
<text x="531.4" y="528.04" font-size="6.5" fill="#6cbf6c" text-anchor="middle" font-weight="normal" >88%</text>
<circle cx="414.8" cy="565" r="2.6" fill="url(#gN)"/>
<text x="423.8" y="567.16" font-size="6.0" fill="#333" text-anchor="start" font-weight="normal" >Charged (negative)</text>
<circle cx="414.8" cy="571" r="2.6" fill="url(#gH)"/>
<text x="423.8" y="573.16" font-size="6.0" fill="#333" text-anchor="start" font-weight="normal" >Hydrophobic</text>
<circle cx="484.7" cy="565" r="2.6" fill="url(#gW)"/>
<text x="493.3" y="567.16" font-size="6.0" fill="#333" text-anchor="start" font-weight="normal" >Water</text>
<line x1="480.6" y1="571" x2="488.8" y2="571" stroke="#4aa84a" stroke-width="0.8" stroke-linecap="round" />
<circle cx="480.6" cy="571" r="1.1" fill="#4aa84a"/><circle cx="488.8" cy="571" r="1.1" fill="#4aa84a"/>
<text x="493.3" y="573.16" font-size="6.0" fill="#333" text-anchor="start" font-weight="normal" >Pi-Pi stacking</text>
<line x1="550.6" y1="565" x2="558" y2="565" stroke="#d04a4a" stroke-width="0.8" stroke-linecap="round" />
<circle cx="558.2" cy="565" r="1.1" fill="#d04a4a"/>
<text x="562.9" y="567.16" font-size="6.0" fill="#333" text-anchor="start" font-weight="normal" >Pi-cation</text>
<circle cx="554.1" cy="571" r="2.8" fill="url(#gS)"/>
<text x="562.9" y="573.16" font-size="6.0" fill="#333" text-anchor="start" font-weight="normal" >Solvent exposure</text>
<circle cx="502.8" cy="607.4" r="7" fill="url(#gS)"/>
<circle cx="531.3" cy="621.4" r="7" fill="url(#gS)"/>
<circle cx="474" cy="648.5" r="7" fill="url(#gS)"/>
<circle cx="559.5" cy="662.3" r="7" fill="url(#gS)"/>
<circle cx="589.7" cy="651.5" r="7" fill="url(#gS)"/>
<circle cx="612" cy="672" r="7" fill="url(#gS)"/>
<circle cx="562.2" cy="689.6" r="7" fill="url(#gS)"/>
<circle cx="608.8" cy="721.4" r="7" fill="url(#gS)"/>
<circle cx="642.7" cy="723.5" r="7" fill="url(#gS)"/>
<circle cx="660.7" cy="701.3" r="7" fill="url(#gS)"/>
<circle cx="654.3" cy="747.8" r="7" fill="url(#gS)"/>
<circle cx="585.5" cy="743.6" r="7" fill="url(#gS)"/>
<line x1="502.8" y1="607.4" x2="531.3" y2="621.4" stroke="#2e2e2e" stroke-width="1.55" stroke-linecap="round" />
<line x1="531.3" y1="621.4" x2="531.3" y2="648.5" stroke="#2e2e2e" stroke-width="1.55" stroke-linecap="round" />
<line x1="531.3" y1="648.5" x2="502.8" y2="662.8" stroke="#2e2e2e" stroke-width="1.55" stroke-linecap="round" />
<line x1="502.8" y1="662.8" x2="474" y2="648.5" stroke="#2e2e2e" stroke-width="1.55" stroke-linecap="round" />
<line x1="531.3" y1="648.5" x2="555.01" y2="660.1" stroke="#2e2e2e" stroke-width="1.55" stroke-linecap="round" />
<line x1="564.21" y1="660.62" x2="584.99" y2="653.18" stroke="#2e2e2e" stroke-width="1.55" stroke-linecap="round" />
<line x1="593.38" y1="654.88" x2="612" y2="672" stroke="#2e2e2e" stroke-width="1.55" stroke-linecap="round" />
<line x1="593.19" y1="658.78" x2="608.13" y2="672.52" stroke="#2e2e2e" stroke-width="1.395" stroke-linecap="round" />
<line x1="612" y1="672" x2="596.1" y2="696" stroke="#2e2e2e" stroke-width="1.55" stroke-linecap="round" />
<line x1="596.1" y1="696" x2="562.2" y2="689.6" stroke="#2e2e2e" stroke-width="1.55" stroke-linecap="round" />
<line x1="593.71" y1="692.5" x2="565.7" y2="687.21" stroke="#2e2e2e" stroke-width="1.395" stroke-linecap="round" />
<line x1="562.2" y1="689.6" x2="559.99" y2="667.28" stroke="#2e2e2e" stroke-width="1.55" stroke-linecap="round" />
<line x1="596.1" y1="696" x2="608.8" y2="721.4" stroke="#2e2e2e" stroke-width="1.55" stroke-linecap="round" />
<line x1="608.8" y1="721.4" x2="642.7" y2="723.5" stroke="#2e2e2e" stroke-width="1.55" stroke-linecap="round" />
<line x1="642.7" y1="723.5" x2="656.92" y2="705.96" stroke="#2e2e2e" stroke-width="1.55" stroke-linecap="round" />
<line x1="642.7" y1="723.5" x2="651.72" y2="742.39" stroke="#2e2e2e" stroke-width="1.55" stroke-linecap="round" />
<polygon points="608.8,721.4 596.5,737.5 593.2,734.8" fill="#111"/>
<text x="559.5" y="666.08" font-size="10.5" fill="#2b2bb0" text-anchor="middle" font-weight="normal" >N</text>
<text x="589.7" y="655.28" font-size="10.5" fill="#2b2bb0" text-anchor="middle" font-weight="normal" >N</text>
<text x="660.7" y="705.08" font-size="10.5" fill="#3ec8c8" text-anchor="middle" font-weight="normal" >F</text>
<text x="654.3" y="751.58" font-size="10.5" fill="#3ec8c8" text-anchor="middle" font-weight="normal" >F</text>
<text x="585.5" y="747.38" font-size="10.5" fill="#d42020" text-anchor="middle" font-weight="normal" >HO</text>
<text x="609.8" y="716.2" font-size="5.6" fill="#555" text-anchor="middle" font-weight="normal" >S</text>
<ellipse cx="444.6" cy="588.1" rx="14.7" ry="11.2" fill="url(#gH)" stroke="#8aa83a" stroke-width="0.7"/>
<text x="444.6" y="583.16" font-size="7.4" fill="#1a1a1a" text-anchor="middle" font-weight="normal" stroke="#1a1a1a" stroke-width="0.12">B:</text>
<text x="444.6" y="590.76" font-size="7.4" fill="#1a1a1a" text-anchor="middle" font-weight="normal" stroke="#1a1a1a" stroke-width="0.12">TYR</text>
<text x="444.6" y="598.36" font-size="7.4" fill="#1a1a1a" text-anchor="middle" font-weight="normal" stroke="#1a1a1a" stroke-width="0.12">489</text>
<ellipse cx="624.7" cy="607.5" rx="14" ry="12" fill="url(#gP)" stroke="#58a8cc" stroke-width="0.7"/>
<text x="624.7" y="602.56" font-size="7.4" fill="#1a1a1a" text-anchor="middle" font-weight="normal" stroke="#1a1a1a" stroke-width="0.12">B:</text>
<text x="624.7" y="610.16" font-size="7.4" fill="#1a1a1a" text-anchor="middle" font-weight="normal" stroke="#1a1a1a" stroke-width="0.12">SER</text>
<text x="624.7" y="617.76" font-size="7.4" fill="#1a1a1a" text-anchor="middle" font-weight="normal" stroke="#1a1a1a" stroke-width="0.12">280</text>
<line x1="615.5" y1="617.5" x2="595.5" y2="644.5" stroke="#d398e6" stroke-width="0.8" stroke-linecap="round" stroke-dasharray="2,1.2"/>
<polygon points="595.5,644.5 596.25,641.07 598.56,642.79" fill="#d398e6"/>
<rect x="598.8" y="623.48" width="17" height="6.23" fill="#fff"/>
<text x="607.3" y="629.55" font-size="8.2" fill="#c77fdb" text-anchor="middle" font-weight="normal" >44%</text>
<line x1="419.4" y1="758.3" x2="672" y2="758.3" stroke="#e2e2e2" stroke-width="0.6" stroke-linecap="round" />
<circle cx="428.1" cy="762" r="2.6" fill="url(#gH)"/>
<text x="436.5" y="764.16" font-size="6.0" fill="#333" text-anchor="start" font-weight="normal" >Hydrophobic</text>
<circle cx="491.7" cy="762" r="2.6" fill="url(#gP)"/>
<text x="500.9" y="764.16" font-size="6.0" fill="#333" text-anchor="start" font-weight="normal" >Polar</text>
<circle cx="555.5" cy="762" r="2.8" fill="url(#gS)"/>
<text x="564.3" y="764.16" font-size="6.0" fill="#333" text-anchor="start" font-weight="normal" >Solvent exposure</text>
</svg></body></html>
